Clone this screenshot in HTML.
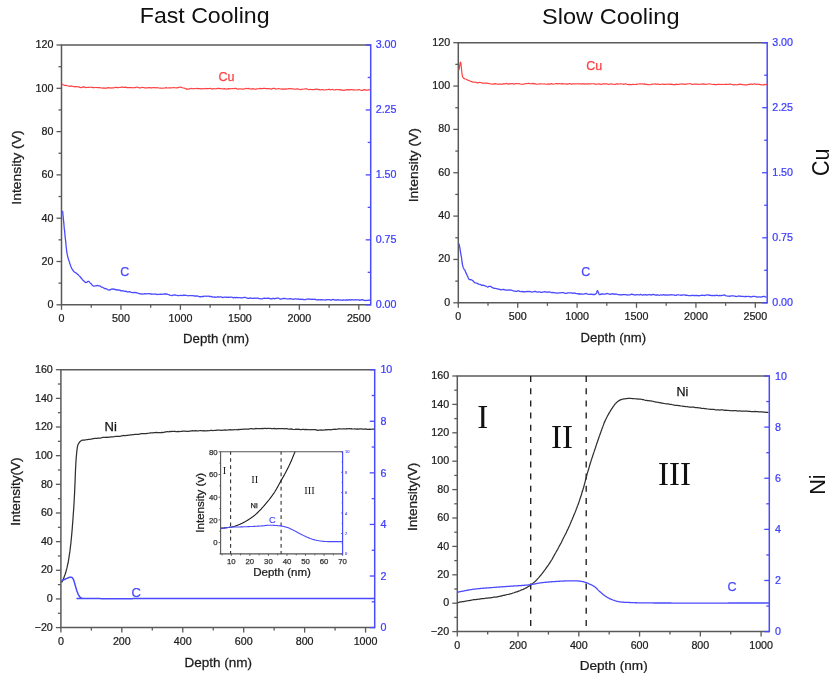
<!DOCTYPE html>
<html><head><meta charset="utf-8"><style>
html,body{margin:0;padding:0;background:#fff;}
svg{display:block;will-change:transform;}
</style></head><body>
<svg width="836" height="682" viewBox="0 0 836 682">
<rect width="836" height="682" fill="#fff"/>
<text transform="translate(204.65 22.80) rotate(0) scale(1.042 1)" font-size="22.2" fill="#111" stroke="#111" stroke-width="0" text-anchor="middle" style="font-family:'Liberation Sans', sans-serif">Fast Cooling</text>
<text transform="translate(610.80 24.30) rotate(0) scale(1.062 1)" font-size="22.2" fill="#111" stroke="#111" stroke-width="0" text-anchor="middle" style="font-family:'Liberation Sans', sans-serif">Slow Cooling</text>
<text transform="translate(829.00 162.20) rotate(-90) scale(0.92 1)" font-size="23.3" fill="#111" stroke="#111" stroke-width="0" text-anchor="middle" style="font-family:'Liberation Sans', sans-serif">Cu</text>
<text transform="translate(824.90 484.60) rotate(-90) scale(0.97 1)" font-size="22.4" fill="#111" stroke="#111" stroke-width="0" text-anchor="middle" style="font-family:'Liberation Sans', sans-serif">Ni</text>
<line x1="60.75" y1="45.00" x2="370.70" y2="45.00" stroke="#5a5a5a" stroke-width="1.5" />
<line x1="61.50" y1="45.00" x2="61.50" y2="304.80" stroke="#5a5a5a" stroke-width="1.5" />
<line x1="60.75" y1="304.80" x2="370.70" y2="304.80" stroke="#5a5a5a" stroke-width="1.5" />
<line x1="56.50" y1="304.80" x2="61.50" y2="304.80" stroke="#5a5a5a" stroke-width="1.3" />
<line x1="56.50" y1="261.50" x2="61.50" y2="261.50" stroke="#5a5a5a" stroke-width="1.3" />
<line x1="56.50" y1="218.20" x2="61.50" y2="218.20" stroke="#5a5a5a" stroke-width="1.3" />
<line x1="56.50" y1="174.90" x2="61.50" y2="174.90" stroke="#5a5a5a" stroke-width="1.3" />
<line x1="56.50" y1="131.60" x2="61.50" y2="131.60" stroke="#5a5a5a" stroke-width="1.3" />
<line x1="56.50" y1="88.30" x2="61.50" y2="88.30" stroke="#5a5a5a" stroke-width="1.3" />
<line x1="56.50" y1="45.00" x2="61.50" y2="45.00" stroke="#5a5a5a" stroke-width="1.3" />
<line x1="58.50" y1="283.15" x2="61.50" y2="283.15" stroke="#5a5a5a" stroke-width="1.3" />
<line x1="58.50" y1="239.85" x2="61.50" y2="239.85" stroke="#5a5a5a" stroke-width="1.3" />
<line x1="58.50" y1="196.55" x2="61.50" y2="196.55" stroke="#5a5a5a" stroke-width="1.3" />
<line x1="58.50" y1="153.25" x2="61.50" y2="153.25" stroke="#5a5a5a" stroke-width="1.3" />
<line x1="58.50" y1="109.95" x2="61.50" y2="109.95" stroke="#5a5a5a" stroke-width="1.3" />
<line x1="58.50" y1="66.65" x2="61.50" y2="66.65" stroke="#5a5a5a" stroke-width="1.3" />
<line x1="61.50" y1="304.80" x2="61.50" y2="309.80" stroke="#5a5a5a" stroke-width="1.3" />
<line x1="120.96" y1="304.80" x2="120.96" y2="309.80" stroke="#5a5a5a" stroke-width="1.3" />
<line x1="180.42" y1="304.80" x2="180.42" y2="309.80" stroke="#5a5a5a" stroke-width="1.3" />
<line x1="239.88" y1="304.80" x2="239.88" y2="309.80" stroke="#5a5a5a" stroke-width="1.3" />
<line x1="299.35" y1="304.80" x2="299.35" y2="309.80" stroke="#5a5a5a" stroke-width="1.3" />
<line x1="358.81" y1="304.80" x2="358.81" y2="309.80" stroke="#5a5a5a" stroke-width="1.3" />
<line x1="91.23" y1="304.80" x2="91.23" y2="307.80" stroke="#5a5a5a" stroke-width="1.3" />
<line x1="150.69" y1="304.80" x2="150.69" y2="307.80" stroke="#5a5a5a" stroke-width="1.3" />
<line x1="210.15" y1="304.80" x2="210.15" y2="307.80" stroke="#5a5a5a" stroke-width="1.3" />
<line x1="269.62" y1="304.80" x2="269.62" y2="307.80" stroke="#5a5a5a" stroke-width="1.3" />
<line x1="329.08" y1="304.80" x2="329.08" y2="307.80" stroke="#5a5a5a" stroke-width="1.3" />
<text transform="translate(53.40 308.10) rotate(0) scale(0.94 1)" font-size="11.4" fill="#1c1c1c" stroke="#1c1c1c" stroke-width="0.25" text-anchor="end" style="font-family:'Liberation Sans', sans-serif">0</text>
<text transform="translate(53.40 264.80) rotate(0) scale(0.94 1)" font-size="11.4" fill="#1c1c1c" stroke="#1c1c1c" stroke-width="0.25" text-anchor="end" style="font-family:'Liberation Sans', sans-serif">20</text>
<text transform="translate(53.40 221.50) rotate(0) scale(0.94 1)" font-size="11.4" fill="#1c1c1c" stroke="#1c1c1c" stroke-width="0.25" text-anchor="end" style="font-family:'Liberation Sans', sans-serif">40</text>
<text transform="translate(53.40 178.20) rotate(0) scale(0.94 1)" font-size="11.4" fill="#1c1c1c" stroke="#1c1c1c" stroke-width="0.25" text-anchor="end" style="font-family:'Liberation Sans', sans-serif">60</text>
<text transform="translate(53.40 134.90) rotate(0) scale(0.94 1)" font-size="11.4" fill="#1c1c1c" stroke="#1c1c1c" stroke-width="0.25" text-anchor="end" style="font-family:'Liberation Sans', sans-serif">80</text>
<text transform="translate(53.40 91.60) rotate(0) scale(0.94 1)" font-size="11.4" fill="#1c1c1c" stroke="#1c1c1c" stroke-width="0.25" text-anchor="end" style="font-family:'Liberation Sans', sans-serif">100</text>
<text transform="translate(53.40 48.30) rotate(0) scale(0.94 1)" font-size="11.4" fill="#1c1c1c" stroke="#1c1c1c" stroke-width="0.25" text-anchor="end" style="font-family:'Liberation Sans', sans-serif">120</text>
<text transform="translate(61.50 322.00) rotate(0) scale(0.94 1)" font-size="11.4" fill="#1c1c1c" stroke="#1c1c1c" stroke-width="0.25" text-anchor="middle" style="font-family:'Liberation Sans', sans-serif">0</text>
<text transform="translate(120.96 322.00) rotate(0) scale(0.94 1)" font-size="11.4" fill="#1c1c1c" stroke="#1c1c1c" stroke-width="0.25" text-anchor="middle" style="font-family:'Liberation Sans', sans-serif">500</text>
<text transform="translate(180.42 322.00) rotate(0) scale(0.94 1)" font-size="11.4" fill="#1c1c1c" stroke="#1c1c1c" stroke-width="0.25" text-anchor="middle" style="font-family:'Liberation Sans', sans-serif">1000</text>
<text transform="translate(239.88 322.00) rotate(0) scale(0.94 1)" font-size="11.4" fill="#1c1c1c" stroke="#1c1c1c" stroke-width="0.25" text-anchor="middle" style="font-family:'Liberation Sans', sans-serif">1500</text>
<text transform="translate(299.35 322.00) rotate(0) scale(0.94 1)" font-size="11.4" fill="#1c1c1c" stroke="#1c1c1c" stroke-width="0.25" text-anchor="middle" style="font-family:'Liberation Sans', sans-serif">2000</text>
<text transform="translate(358.81 322.00) rotate(0) scale(0.94 1)" font-size="11.4" fill="#1c1c1c" stroke="#1c1c1c" stroke-width="0.25" text-anchor="middle" style="font-family:'Liberation Sans', sans-serif">2500</text>
<line x1="370.70" y1="44.25" x2="370.70" y2="305.55" stroke="#4a4aff" stroke-width="1.5" />
<line x1="365.70" y1="304.80" x2="370.70" y2="304.80" stroke="#4a4aff" stroke-width="1.3" />
<line x1="365.70" y1="239.85" x2="370.70" y2="239.85" stroke="#4a4aff" stroke-width="1.3" />
<line x1="365.70" y1="174.90" x2="370.70" y2="174.90" stroke="#4a4aff" stroke-width="1.3" />
<line x1="365.70" y1="109.95" x2="370.70" y2="109.95" stroke="#4a4aff" stroke-width="1.3" />
<line x1="365.70" y1="45.00" x2="370.70" y2="45.00" stroke="#4a4aff" stroke-width="1.3" />
<line x1="367.70" y1="272.32" x2="370.70" y2="272.32" stroke="#4a4aff" stroke-width="1.3" />
<line x1="367.70" y1="207.38" x2="370.70" y2="207.38" stroke="#4a4aff" stroke-width="1.3" />
<line x1="367.70" y1="142.43" x2="370.70" y2="142.43" stroke="#4a4aff" stroke-width="1.3" />
<line x1="367.70" y1="77.47" x2="370.70" y2="77.47" stroke="#4a4aff" stroke-width="1.3" />
<text transform="translate(375.70 307.85) rotate(0) scale(0.94 1)" font-size="11.4" fill="#3c3cff" stroke="#3c3cff" stroke-width="0.25" text-anchor="start" style="font-family:'Liberation Sans', sans-serif">0.00</text>
<text transform="translate(375.70 242.90) rotate(0) scale(0.94 1)" font-size="11.4" fill="#3c3cff" stroke="#3c3cff" stroke-width="0.25" text-anchor="start" style="font-family:'Liberation Sans', sans-serif">0.75</text>
<text transform="translate(375.70 177.95) rotate(0) scale(0.94 1)" font-size="11.4" fill="#3c3cff" stroke="#3c3cff" stroke-width="0.25" text-anchor="start" style="font-family:'Liberation Sans', sans-serif">1.50</text>
<text transform="translate(375.70 113.00) rotate(0) scale(0.94 1)" font-size="11.4" fill="#3c3cff" stroke="#3c3cff" stroke-width="0.25" text-anchor="start" style="font-family:'Liberation Sans', sans-serif">2.25</text>
<text transform="translate(375.70 48.05) rotate(0) scale(0.94 1)" font-size="11.4" fill="#3c3cff" stroke="#3c3cff" stroke-width="0.25" text-anchor="start" style="font-family:'Liberation Sans', sans-serif">3.00</text>
<text transform="translate(20.90 167.50) rotate(-90) scale(1.072 1)" font-size="13" fill="#1c1c1c" stroke="#1c1c1c" stroke-width="0.25" text-anchor="middle" style="font-family:'Liberation Sans', sans-serif">Intensity (V)</text>
<text transform="translate(216.10 343.40) rotate(0) scale(1.06 1)" font-size="12.5" fill="#1c1c1c" stroke="#1c1c1c" stroke-width="0.25" text-anchor="middle" style="font-family:'Liberation Sans', sans-serif">Depth (nm)</text>
<polyline points="62.30,84.04 63.10,84.72 64.30,85.30 66.00,85.46 66.78,85.62 67.65,85.74 68.59,86.01 69.60,86.32 70.66,86.06 71.77,85.94 72.92,86.49 74.10,86.56 75.05,86.85 75.99,86.52 76.95,86.69 77.93,87.01 78.94,86.87 80.01,87.33 81.13,87.59 82.33,87.15 83.62,86.94 85.00,87.21 85.87,87.65 86.79,87.52 87.76,87.35 88.76,87.43 89.80,87.22 90.87,87.26 91.96,87.45 93.06,87.62 94.18,87.54 95.30,87.52 96.42,87.51 97.53,87.69 98.63,87.67 99.71,87.49 100.77,87.96 101.80,88.02 102.80,88.11 103.90,87.83 104.99,88.22 106.07,88.32 107.13,87.83 108.19,87.68 109.23,87.84 110.26,87.89 111.29,88.05 112.30,87.74 113.30,87.83 114.30,87.75 115.29,87.42 116.27,87.43 117.24,87.63 118.20,87.71 119.28,87.52 120.31,87.48 121.31,87.09 122.28,87.03 123.24,87.40 124.19,87.35 125.15,87.18 126.12,87.36 127.12,87.58 128.16,87.70 129.24,87.57 130.39,87.54 131.60,87.58 132.47,87.79 133.37,87.73 134.30,87.60 135.25,87.60 136.22,87.28 137.21,87.11 138.22,87.47 139.24,87.87 140.27,87.81 141.32,87.64 142.37,87.39 143.42,87.48 144.47,87.86 145.53,87.93 146.58,87.80 147.62,87.96 148.66,87.61 149.69,87.61 150.70,87.93 151.71,87.84 152.74,87.72 153.79,87.53 154.84,87.63 155.89,87.98 156.96,87.52 158.02,87.82 159.08,88.02 160.14,88.18 161.19,88.18 162.22,88.24 163.25,88.07 164.26,88.02 165.25,87.90 166.21,87.59 167.15,87.99 168.07,88.00 168.95,87.75 169.80,87.82 171.10,87.84 172.37,87.74 173.60,87.66 174.78,87.73 175.92,87.80 177.01,87.82 178.05,87.70 179.03,87.32 179.95,87.24 180.80,87.16 181.59,87.41 182.30,87.76 184.21,88.12 185.14,88.56 186.00,88.93 186.20,88.75 186.32,89.10 189.00,89.17 189.59,88.76 190.22,88.49 190.92,88.34 191.66,88.78 192.44,88.66 193.27,88.50 194.14,88.77 195.05,88.72 195.99,88.50 196.97,88.44 197.98,88.66 199.01,88.53 200.08,88.52 201.16,88.83 202.26,88.81 203.39,88.70 204.52,88.75 205.67,88.46 206.83,88.55 208.00,88.62 209.17,88.49 210.34,88.36 211.51,88.84 212.68,88.83 213.84,88.61 215.00,88.77 215.91,89.00 216.83,88.57 217.76,88.33 218.70,88.29 219.65,88.66 220.60,88.47 221.57,88.75 222.54,88.88 223.52,88.86 224.51,88.62 225.51,89.01 226.51,89.10 227.52,88.95 228.54,88.67 229.56,88.80 230.59,88.70 231.62,88.77 232.67,88.62 233.71,88.76 234.76,88.43 235.82,88.42 236.88,88.88 237.95,89.07 239.02,88.77 240.09,88.99 241.17,88.73 242.25,89.03 243.34,89.05 244.42,88.83 245.51,88.60 246.61,88.30 247.70,88.75 248.80,88.40 249.76,88.76 250.75,89.06 251.75,88.95 252.76,88.60 253.79,88.91 254.84,89.14 255.90,89.09 256.96,88.92 258.04,88.74 259.13,88.61 260.22,88.45 261.32,88.69 262.42,88.65 263.53,88.46 264.63,88.29 265.74,88.60 266.85,88.51 267.95,88.60 269.05,88.53 270.15,88.87 271.23,89.08 272.32,88.58 273.39,88.44 274.45,88.45 275.50,88.92 276.54,89.03 277.56,88.79 278.57,88.57 279.56,88.77 280.53,89.00 281.49,89.20 282.42,88.89 283.33,89.11 284.22,89.09 285.08,88.94 285.91,89.22 286.72,88.84 287.50,88.99 288.95,88.63 290.26,88.50 291.44,88.96 292.51,88.73 293.49,89.00 294.39,89.05 295.23,89.25 296.03,89.05 296.81,88.93 297.58,88.84 298.35,89.21 299.15,89.24 300.00,89.52 300.90,89.64 301.88,89.19 302.95,89.25 304.14,88.98 305.45,88.81 306.90,88.75 307.68,89.27 308.50,89.51 309.36,89.68 310.24,89.44 311.15,89.51 312.09,89.67 313.06,89.49 314.05,89.53 315.06,89.32 316.09,89.12 317.15,89.15 318.21,89.61 319.30,89.64 320.39,89.93 321.50,89.76 322.61,89.56 323.73,89.81 324.86,89.99 325.99,89.53 327.13,89.74 328.26,89.47 329.39,89.34 330.52,89.82 331.64,89.50 332.75,89.47 333.86,89.99 334.95,89.88 336.03,89.62 337.10,89.52 338.14,89.52 339.17,89.88 340.18,89.64 341.17,90.07 342.13,89.95 343.07,90.29 343.97,90.45 344.85,90.10 345.70,89.89 347.01,89.93 348.31,89.69 349.60,89.95 350.87,89.66 352.13,89.47 353.36,90.05 354.58,89.88 355.77,89.99 356.94,89.95 358.08,89.82 359.19,89.57 360.28,90.02 361.32,90.30 362.33,90.45 363.30,89.92 364.24,89.70 365.13,89.85 365.97,90.18 366.77,90.05 367.52,90.08 368.22,90.07 368.87,89.78 369.46,89.82 370.00,89.67" fill="none" stroke="#ff4040" stroke-width="1.2" stroke-linejoin="round" />
<polyline points="62.60,210.86 62.66,211.66 62.73,211.78 62.81,212.32 62.89,213.70 62.99,214.89 63.10,216.03 63.21,216.92 63.32,218.21 63.44,219.49 63.55,220.73 63.67,221.62 63.79,222.87 63.90,224.02 63.99,225.23 64.09,226.56 64.18,227.72 64.28,228.50 64.38,229.32 64.48,230.10 64.58,230.82 64.68,231.69 64.78,232.98 64.89,234.05 64.99,235.14 65.09,236.60 65.20,237.55 65.30,238.53 65.40,239.22 65.50,239.84 65.63,241.10 65.76,242.17 65.88,243.57 66.00,245.23 66.13,246.38 66.25,247.10 66.38,248.53 66.51,249.69 66.64,250.73 66.79,251.86 66.94,252.78 67.10,253.71 67.33,254.54 67.56,255.95 67.81,257.14 68.07,257.58 68.33,258.70 68.61,259.68 68.90,260.42 69.19,261.29 69.50,262.15 69.84,263.49 70.17,264.33 70.50,265.49 70.84,266.17 71.22,267.37 71.65,268.45 72.14,269.08 72.70,269.89 73.36,270.97 74.10,271.74 74.90,272.30 75.75,272.72 76.62,273.35 77.50,274.33 78.37,274.79 79.20,276.00 79.93,276.47 80.69,277.64 81.46,278.21 82.22,279.43 82.97,280.26 83.70,280.86 84.39,281.47 85.03,282.09 85.60,282.48 86.90,282.34 87.86,281.42 88.90,281.36 89.63,282.32 90.37,283.18 91.15,283.73 91.99,285.00 92.90,285.76 93.93,286.24 95.06,285.81 96.23,285.93 97.40,285.44 98.50,285.79 99.51,285.92 100.45,286.19 101.39,287.10 102.35,287.20 103.40,287.78 104.38,288.50 105.44,288.62 106.54,288.85 107.61,289.66 108.62,289.83 109.50,290.19 110.61,289.61 111.43,289.18 113.00,288.89 113.74,289.30 114.59,289.13 115.52,289.84 116.52,289.58 117.58,290.12 118.69,289.95 119.83,290.16 120.98,290.82 122.15,290.75 123.30,290.81 124.25,291.29 125.21,291.39 126.16,291.24 127.13,291.98 128.12,291.79 129.12,291.67 130.16,291.91 131.22,292.33 132.32,292.72 133.47,292.50 134.66,292.61 135.90,292.48 136.81,292.76 137.76,293.20 138.74,293.46 139.75,293.77 140.77,293.86 141.82,294.02 142.89,294.02 143.97,293.86 145.06,293.61 146.16,293.85 147.26,293.73 148.37,293.53 149.47,293.72 150.57,294.19 151.66,293.88 152.74,294.10 153.80,294.09 154.80,294.20 155.80,293.99 156.80,294.54 157.80,294.30 158.80,294.46 159.80,294.41 160.80,294.08 161.80,294.34 162.80,294.17 163.80,294.02 164.80,293.94 165.80,294.01 166.80,294.01 167.80,294.46 168.80,294.63 169.80,295.12 170.80,295.37 171.80,295.58 172.86,295.12 173.91,295.06 174.96,294.90 176.02,295.12 177.07,295.30 178.12,295.57 179.17,295.68 180.22,295.41 181.28,295.43 182.33,295.55 183.38,295.23 184.43,295.11 185.48,295.37 186.54,295.31 187.59,295.78 188.64,295.68 189.70,295.53 190.70,295.53 191.70,295.58 192.70,295.61 193.70,295.89 194.70,296.00 195.70,295.95 196.70,296.20 197.70,296.00 198.70,296.45 199.70,296.76 200.70,296.75 201.70,296.52 202.70,296.46 203.70,296.50 204.70,296.11 205.70,296.21 206.70,296.36 207.70,296.19 208.74,296.05 209.77,296.56 210.78,296.51 211.78,296.64 212.77,297.05 213.76,297.06 214.75,296.83 215.75,297.29 216.75,297.08 217.77,296.70 218.81,297.06 219.86,296.81 220.94,296.86 222.05,297.34 223.20,297.49 224.38,297.07 225.60,297.20 226.50,297.25 227.43,297.35 228.38,297.20 229.36,297.43 230.37,297.16 231.39,297.19 232.43,297.29 233.49,297.80 234.56,297.41 235.63,297.75 236.71,297.50 237.79,297.67 238.88,297.64 239.96,297.69 241.03,297.95 242.10,297.83 243.16,297.55 244.20,297.40 245.22,297.30 246.23,297.87 247.21,298.02 248.17,298.37 249.10,298.36 250.00,297.83 251.11,298.06 252.11,298.29 253.01,298.38 253.83,298.26 254.60,298.09 255.33,298.08 256.03,298.36 256.74,298.09 257.46,298.16 258.22,298.17 259.04,298.56 259.94,298.67 260.93,298.84 262.04,298.87 263.28,298.46 264.67,298.20 266.24,298.29 268.00,298.16 268.70,298.23 269.43,298.47 270.20,298.80 271.00,298.73 271.82,298.88 272.68,298.39 273.56,298.34 274.46,298.84 275.39,298.44 276.34,298.44 277.32,298.18 278.31,298.06 279.32,298.65 280.35,299.05 281.40,299.02 282.46,298.59 283.53,298.50 284.62,298.41 285.71,298.72 286.82,298.91 287.93,298.83 289.05,298.87 290.18,298.57 291.31,298.76 292.44,299.20 293.58,299.30 294.71,298.84 295.84,298.93 296.97,299.15 298.10,298.91 299.22,299.30 300.34,299.18 301.44,299.32 302.54,299.16 303.63,299.56 304.70,299.62 305.76,299.49 306.81,299.09 307.84,299.12 308.86,298.81 309.85,299.10 310.83,299.50 311.79,299.16 312.72,299.25 313.63,299.29 314.51,299.25 315.37,299.48 316.20,299.80 317.00,299.79 318.35,299.62 319.65,299.92 320.91,299.59 322.13,299.75 323.30,299.78 324.44,299.88 325.55,300.02 326.62,299.60 327.66,299.69 328.67,299.57 329.66,299.72 330.63,300.06 331.57,299.98 332.50,299.44 333.41,299.51 334.31,299.75 335.20,300.02 336.08,299.99 336.96,300.11 337.83,299.54 338.70,299.98 339.58,300.05 340.46,300.00 341.34,300.21 342.24,300.32 343.14,299.76 344.06,300.03 345.00,300.15 346.07,299.77 347.18,300.01 348.30,300.02 349.44,299.72 350.59,300.06 351.76,299.72 352.92,299.92 354.09,299.91 355.26,299.76 356.42,299.94 357.56,299.97 358.69,299.79 359.80,300.31 360.89,299.89 361.94,299.61 362.97,299.86 363.95,300.28 364.90,300.38 365.80,300.52 366.65,300.39 367.44,300.47 368.18,300.25 368.86,300.09 369.46,300.19 370.00,299.87" fill="none" stroke="#4a4aff" stroke-width="1.3" stroke-linejoin="round" />
<text x="218.50" y="81.30" font-size="12.5" fill="#ff4040" stroke="#ff4040" stroke-width="0.25" text-anchor="start" style="font-family:'Liberation Sans', sans-serif" >Cu</text>
<text x="120.30" y="275.80" font-size="12.5" fill="#4a4aff" stroke="#4a4aff" stroke-width="0.25" text-anchor="start" style="font-family:'Liberation Sans', sans-serif" >C</text>
<line x1="457.55" y1="42.70" x2="767.20" y2="42.70" stroke="#5a5a5a" stroke-width="1.5" />
<line x1="458.30" y1="42.70" x2="458.30" y2="302.80" stroke="#5a5a5a" stroke-width="1.5" />
<line x1="457.55" y1="302.80" x2="767.20" y2="302.80" stroke="#5a5a5a" stroke-width="1.5" />
<line x1="453.30" y1="302.80" x2="458.30" y2="302.80" stroke="#5a5a5a" stroke-width="1.3" />
<line x1="453.30" y1="259.45" x2="458.30" y2="259.45" stroke="#5a5a5a" stroke-width="1.3" />
<line x1="453.30" y1="216.10" x2="458.30" y2="216.10" stroke="#5a5a5a" stroke-width="1.3" />
<line x1="453.30" y1="172.75" x2="458.30" y2="172.75" stroke="#5a5a5a" stroke-width="1.3" />
<line x1="453.30" y1="129.40" x2="458.30" y2="129.40" stroke="#5a5a5a" stroke-width="1.3" />
<line x1="453.30" y1="86.05" x2="458.30" y2="86.05" stroke="#5a5a5a" stroke-width="1.3" />
<line x1="453.30" y1="42.70" x2="458.30" y2="42.70" stroke="#5a5a5a" stroke-width="1.3" />
<line x1="455.30" y1="281.12" x2="458.30" y2="281.12" stroke="#5a5a5a" stroke-width="1.3" />
<line x1="455.30" y1="237.78" x2="458.30" y2="237.78" stroke="#5a5a5a" stroke-width="1.3" />
<line x1="455.30" y1="194.43" x2="458.30" y2="194.43" stroke="#5a5a5a" stroke-width="1.3" />
<line x1="455.30" y1="151.07" x2="458.30" y2="151.07" stroke="#5a5a5a" stroke-width="1.3" />
<line x1="455.30" y1="107.72" x2="458.30" y2="107.72" stroke="#5a5a5a" stroke-width="1.3" />
<line x1="455.30" y1="64.38" x2="458.30" y2="64.38" stroke="#5a5a5a" stroke-width="1.3" />
<line x1="458.30" y1="302.80" x2="458.30" y2="307.80" stroke="#5a5a5a" stroke-width="1.3" />
<line x1="517.70" y1="302.80" x2="517.70" y2="307.80" stroke="#5a5a5a" stroke-width="1.3" />
<line x1="577.11" y1="302.80" x2="577.11" y2="307.80" stroke="#5a5a5a" stroke-width="1.3" />
<line x1="636.51" y1="302.80" x2="636.51" y2="307.80" stroke="#5a5a5a" stroke-width="1.3" />
<line x1="695.92" y1="302.80" x2="695.92" y2="307.80" stroke="#5a5a5a" stroke-width="1.3" />
<line x1="755.32" y1="302.80" x2="755.32" y2="307.80" stroke="#5a5a5a" stroke-width="1.3" />
<line x1="488.00" y1="302.80" x2="488.00" y2="305.80" stroke="#5a5a5a" stroke-width="1.3" />
<line x1="547.41" y1="302.80" x2="547.41" y2="305.80" stroke="#5a5a5a" stroke-width="1.3" />
<line x1="606.81" y1="302.80" x2="606.81" y2="305.80" stroke="#5a5a5a" stroke-width="1.3" />
<line x1="666.21" y1="302.80" x2="666.21" y2="305.80" stroke="#5a5a5a" stroke-width="1.3" />
<line x1="725.62" y1="302.80" x2="725.62" y2="305.80" stroke="#5a5a5a" stroke-width="1.3" />
<text transform="translate(450.20 305.60) rotate(0) scale(0.94 1)" font-size="11.4" fill="#1c1c1c" stroke="#1c1c1c" stroke-width="0.25" text-anchor="end" style="font-family:'Liberation Sans', sans-serif">0</text>
<text transform="translate(450.20 262.25) rotate(0) scale(0.94 1)" font-size="11.4" fill="#1c1c1c" stroke="#1c1c1c" stroke-width="0.25" text-anchor="end" style="font-family:'Liberation Sans', sans-serif">20</text>
<text transform="translate(450.20 218.90) rotate(0) scale(0.94 1)" font-size="11.4" fill="#1c1c1c" stroke="#1c1c1c" stroke-width="0.25" text-anchor="end" style="font-family:'Liberation Sans', sans-serif">40</text>
<text transform="translate(450.20 175.55) rotate(0) scale(0.94 1)" font-size="11.4" fill="#1c1c1c" stroke="#1c1c1c" stroke-width="0.25" text-anchor="end" style="font-family:'Liberation Sans', sans-serif">60</text>
<text transform="translate(450.20 132.20) rotate(0) scale(0.94 1)" font-size="11.4" fill="#1c1c1c" stroke="#1c1c1c" stroke-width="0.25" text-anchor="end" style="font-family:'Liberation Sans', sans-serif">80</text>
<text transform="translate(450.20 88.85) rotate(0) scale(0.94 1)" font-size="11.4" fill="#1c1c1c" stroke="#1c1c1c" stroke-width="0.25" text-anchor="end" style="font-family:'Liberation Sans', sans-serif">100</text>
<text transform="translate(450.20 45.50) rotate(0) scale(0.94 1)" font-size="11.4" fill="#1c1c1c" stroke="#1c1c1c" stroke-width="0.25" text-anchor="end" style="font-family:'Liberation Sans', sans-serif">120</text>
<text transform="translate(458.30 320.00) rotate(0) scale(0.94 1)" font-size="11.4" fill="#1c1c1c" stroke="#1c1c1c" stroke-width="0.25" text-anchor="middle" style="font-family:'Liberation Sans', sans-serif">0</text>
<text transform="translate(517.70 320.00) rotate(0) scale(0.94 1)" font-size="11.4" fill="#1c1c1c" stroke="#1c1c1c" stroke-width="0.25" text-anchor="middle" style="font-family:'Liberation Sans', sans-serif">500</text>
<text transform="translate(577.11 320.00) rotate(0) scale(0.94 1)" font-size="11.4" fill="#1c1c1c" stroke="#1c1c1c" stroke-width="0.25" text-anchor="middle" style="font-family:'Liberation Sans', sans-serif">1000</text>
<text transform="translate(636.51 320.00) rotate(0) scale(0.94 1)" font-size="11.4" fill="#1c1c1c" stroke="#1c1c1c" stroke-width="0.25" text-anchor="middle" style="font-family:'Liberation Sans', sans-serif">1500</text>
<text transform="translate(695.92 320.00) rotate(0) scale(0.94 1)" font-size="11.4" fill="#1c1c1c" stroke="#1c1c1c" stroke-width="0.25" text-anchor="middle" style="font-family:'Liberation Sans', sans-serif">2000</text>
<text transform="translate(755.32 320.00) rotate(0) scale(0.94 1)" font-size="11.4" fill="#1c1c1c" stroke="#1c1c1c" stroke-width="0.25" text-anchor="middle" style="font-family:'Liberation Sans', sans-serif">2500</text>
<line x1="767.20" y1="41.95" x2="767.20" y2="303.55" stroke="#4a4aff" stroke-width="1.5" />
<line x1="762.20" y1="302.80" x2="767.20" y2="302.80" stroke="#4a4aff" stroke-width="1.3" />
<line x1="762.20" y1="237.78" x2="767.20" y2="237.78" stroke="#4a4aff" stroke-width="1.3" />
<line x1="762.20" y1="172.75" x2="767.20" y2="172.75" stroke="#4a4aff" stroke-width="1.3" />
<line x1="762.20" y1="107.72" x2="767.20" y2="107.72" stroke="#4a4aff" stroke-width="1.3" />
<line x1="762.20" y1="42.70" x2="767.20" y2="42.70" stroke="#4a4aff" stroke-width="1.3" />
<line x1="764.20" y1="270.29" x2="767.20" y2="270.29" stroke="#4a4aff" stroke-width="1.3" />
<line x1="764.20" y1="205.26" x2="767.20" y2="205.26" stroke="#4a4aff" stroke-width="1.3" />
<line x1="764.20" y1="140.24" x2="767.20" y2="140.24" stroke="#4a4aff" stroke-width="1.3" />
<line x1="764.20" y1="75.21" x2="767.20" y2="75.21" stroke="#4a4aff" stroke-width="1.3" />
<text transform="translate(772.20 305.85) rotate(0) scale(0.94 1)" font-size="11.4" fill="#3c3cff" stroke="#3c3cff" stroke-width="0.25" text-anchor="start" style="font-family:'Liberation Sans', sans-serif">0.00</text>
<text transform="translate(772.20 240.83) rotate(0) scale(0.94 1)" font-size="11.4" fill="#3c3cff" stroke="#3c3cff" stroke-width="0.25" text-anchor="start" style="font-family:'Liberation Sans', sans-serif">0.75</text>
<text transform="translate(772.20 175.80) rotate(0) scale(0.94 1)" font-size="11.4" fill="#3c3cff" stroke="#3c3cff" stroke-width="0.25" text-anchor="start" style="font-family:'Liberation Sans', sans-serif">1.50</text>
<text transform="translate(772.20 110.77) rotate(0) scale(0.94 1)" font-size="11.4" fill="#3c3cff" stroke="#3c3cff" stroke-width="0.25" text-anchor="start" style="font-family:'Liberation Sans', sans-serif">2.25</text>
<text transform="translate(772.20 45.75) rotate(0) scale(0.94 1)" font-size="11.4" fill="#3c3cff" stroke="#3c3cff" stroke-width="0.25" text-anchor="start" style="font-family:'Liberation Sans', sans-serif">3.00</text>
<text transform="translate(418.10 165.20) rotate(-90) scale(1.072 1)" font-size="13" fill="#1c1c1c" stroke="#1c1c1c" stroke-width="0.25" text-anchor="middle" style="font-family:'Liberation Sans', sans-serif">Intensity (V)</text>
<text transform="translate(613.30 341.60) rotate(0) scale(1.05 1)" font-size="12.5" fill="#1c1c1c" stroke="#1c1c1c" stroke-width="0.25" text-anchor="middle" style="font-family:'Liberation Sans', sans-serif">Depth (nm)</text>
<polyline points="459.00,70.02 459.14,69.25 459.34,67.83 459.57,66.35 459.82,64.84 460.09,63.16 460.35,62.10 460.60,62.47 460.73,62.67 460.86,63.17 460.99,64.48 461.12,65.39 461.25,66.74 461.38,67.84 461.51,69.17 461.64,70.15 461.77,71.59 461.91,73.04 462.04,74.02 462.17,75.04 462.30,75.76 462.84,77.08 463.37,77.95 464.00,78.41 465.14,78.97 466.50,79.23 467.57,80.10 468.75,80.51 470.00,81.06 470.85,81.50 471.67,81.69 472.67,82.04 474.10,81.99 474.87,82.25 475.68,82.21 476.54,82.61 477.47,82.86 478.48,82.53 479.59,82.44 480.82,82.51 482.19,83.12 483.70,83.13 484.43,83.25 485.12,83.11 485.78,83.20 486.43,83.18 487.08,83.16 487.73,83.33 488.41,83.43 489.12,83.73 489.87,83.75 490.69,83.95 491.58,84.02 492.56,84.16 493.63,84.03 494.81,83.61 496.11,83.87 497.55,84.10 499.14,84.20 500.88,84.03 502.80,84.04 503.48,83.69 504.19,83.94 504.91,83.89 505.66,83.67 506.43,83.40 507.23,83.80 508.04,84.12 508.87,83.67 509.72,83.92 510.59,83.79 511.48,83.54 512.38,83.50 513.30,83.81 514.24,84.06 515.19,83.62 516.15,83.78 517.13,83.47 518.12,83.77 519.13,83.66 520.14,83.99 521.17,84.25 522.21,84.05 523.25,84.29 524.31,83.95 525.37,83.59 526.45,83.77 527.53,83.46 528.61,83.42 529.70,83.54 530.80,83.75 531.90,83.55 533.01,83.36 534.12,83.83 535.23,83.71 536.34,84.09 537.45,84.26 538.57,83.99 539.69,83.90 540.80,83.89 541.91,83.98 543.02,83.99 544.13,83.97 545.24,84.01 546.34,84.25 547.44,84.08 548.53,83.94 549.61,84.06 550.69,83.80 551.76,83.69 552.83,84.11 553.88,84.02 554.93,84.00 555.97,83.61 556.99,83.68 558.01,83.83 559.01,83.53 560.00,83.78 561.01,83.93 562.02,83.61 563.01,83.84 564.00,83.85 564.97,84.01 565.94,83.87 566.89,84.04 567.85,84.16 568.79,83.72 569.73,83.51 570.66,83.83 571.59,84.21 572.51,83.92 573.43,83.90 574.35,83.99 575.26,83.85 576.17,83.81 577.08,83.75 577.99,83.76 578.90,83.92 579.81,83.81 580.72,83.80 581.63,84.08 582.54,83.71 583.46,83.89 584.38,84.10 585.30,83.92 586.23,83.77 587.16,84.09 588.10,83.87 589.04,83.72 589.99,83.81 590.95,84.04 591.91,83.76 592.88,83.76 593.87,83.77 594.86,84.12 595.86,84.04 596.87,84.29 597.90,83.95 598.93,83.88 599.98,84.07 601.04,84.33 602.12,84.18 603.20,83.94 604.31,83.73 605.43,83.91 606.56,83.77 607.71,84.12 608.88,84.34 610.07,84.01 611.27,83.89 612.49,84.20 613.74,84.25 615.00,84.40 615.83,84.16 616.67,83.88 617.52,83.84 618.38,84.17 619.25,83.98 620.13,83.94 621.02,83.96 621.91,83.98 622.82,83.98 623.74,84.34 624.66,84.00 625.59,83.71 626.53,84.21 627.48,84.44 628.44,84.65 629.40,84.37 630.37,84.58 631.34,84.69 632.33,84.25 633.32,84.38 634.31,84.51 635.31,84.46 636.32,84.34 637.33,84.11 638.35,84.02 639.37,83.90 640.40,83.72 641.43,83.98 642.47,83.92 643.51,84.25 644.55,83.90 645.60,84.31 646.65,84.39 647.70,84.59 648.76,84.69 649.82,84.74 650.88,84.55 651.94,84.05 653.01,84.28 654.08,84.02 655.15,83.96 656.21,84.18 657.29,84.21 658.36,84.15 659.43,84.48 660.50,84.44 661.57,84.23 662.64,84.05 663.72,84.38 664.79,84.29 665.86,84.46 666.92,84.25 667.99,84.03 669.06,84.14 670.12,84.40 671.18,84.10 672.24,84.36 673.30,84.60 674.35,84.65 675.40,84.70 676.45,84.15 677.49,84.28 678.53,84.52 679.57,84.09 680.60,84.00 681.63,83.96 682.65,84.11 683.67,84.13 684.68,84.17 685.69,84.41 686.69,84.00 687.69,83.81 688.68,83.76 689.66,83.73 690.64,83.67 691.61,84.28 692.57,84.53 693.53,84.13 694.48,84.20 695.42,84.11 696.35,84.06 697.28,84.06 698.19,84.27 699.10,84.35 700.00,84.23 701.14,84.05 702.28,84.05 703.43,83.90 704.59,84.13 705.75,84.37 706.91,84.26 708.08,84.00 709.25,83.92 710.43,84.02 711.61,84.23 712.79,84.48 713.97,84.33 715.15,84.55 716.33,84.55 717.52,84.41 718.70,84.30 719.88,84.32 721.06,84.48 722.24,84.37 723.42,84.51 724.59,84.42 725.76,84.22 726.93,84.32 728.09,84.48 729.24,84.14 730.39,84.20 731.54,84.24 732.68,84.57 733.81,84.80 734.94,84.54 736.06,84.76 737.16,84.81 738.27,84.46 739.36,84.42 740.44,84.16 741.51,84.50 742.57,84.58 743.62,84.78 744.66,84.83 745.68,84.77 746.70,84.79 747.70,84.68 748.68,84.30 749.66,84.43 750.61,84.09 751.56,84.01 752.48,84.40 753.39,84.11 754.29,83.98 755.17,83.92 756.03,84.43 756.87,84.23 757.69,84.00 758.50,84.46 759.28,84.20 760.05,84.57 760.79,84.65 761.51,84.81 762.21,84.98 762.89,84.82 763.55,84.88 764.19,84.38 764.80,84.62 765.39,84.57 765.95,84.69 766.49,84.33 767.00,84.58" fill="none" stroke="#ff4040" stroke-width="1.2" stroke-linejoin="round" />
<polyline points="459.00,243.79 459.14,244.27 459.33,245.32 459.56,246.32 459.80,247.44 460.06,248.95 460.30,250.81 460.46,251.93 460.63,253.01 460.80,253.68 460.98,254.80 461.16,255.71 461.33,256.61 461.50,257.50 461.65,258.49 461.80,259.96 461.98,261.43 462.13,262.68 462.26,263.78 462.40,264.31 462.58,265.08 462.80,266.12 463.24,267.42 463.75,268.55 464.31,269.60 464.90,270.16 465.31,271.20 465.75,272.37 466.21,273.41 466.66,274.21 467.10,275.30 467.50,275.90 468.19,277.78 468.81,279.03 469.50,279.64 470.77,279.68 472.10,280.21 472.92,280.73 473.73,281.72 474.60,282.52 475.59,282.83 476.64,283.11 477.70,283.63 478.70,284.03 479.69,284.27 480.80,284.70 481.78,285.39 482.85,285.26 483.92,285.30 484.90,285.91 486.05,286.23 487.09,286.79 488.00,287.01 489.00,286.36 490.00,286.40 490.89,286.51 491.89,287.29 493.10,287.80 494.19,288.34 495.41,288.41 496.70,288.57 498.00,289.07 498.93,289.08 499.78,289.35 500.70,289.86 501.86,289.58 503.40,289.47 504.18,289.52 505.01,290.01 505.90,290.19 506.84,290.02 507.83,290.03 508.87,289.95 509.95,290.16 511.07,289.98 512.23,290.44 513.42,290.88 514.65,291.22 515.90,291.26 516.81,291.49 517.76,290.89 518.73,290.81 519.74,291.34 520.77,291.52 521.81,291.36 522.88,291.73 523.96,291.71 525.05,291.89 526.15,291.61 527.26,291.40 528.36,291.52 529.47,291.37 530.57,291.52 531.66,292.09 532.74,291.92 533.80,291.59 534.80,291.46 535.80,291.51 536.80,292.04 537.80,292.01 538.80,291.95 539.80,291.78 540.80,292.40 541.80,292.31 542.80,292.10 543.80,291.88 544.80,291.77 545.80,291.81 546.80,292.25 547.80,292.09 548.80,291.92 549.80,292.21 550.80,292.18 551.80,292.79 552.86,292.44 553.91,292.59 554.96,292.89 556.02,292.78 557.07,293.21 558.12,293.05 559.17,292.80 560.22,292.81 561.28,292.54 562.33,292.72 563.38,292.70 564.43,293.21 565.48,293.47 566.54,293.36 567.59,292.95 568.64,292.91 569.70,292.90 570.71,292.88 571.75,292.90 572.81,293.44 573.89,293.17 574.98,292.96 576.07,293.56 577.16,293.62 578.25,294.00 579.33,293.75 580.39,294.03 581.44,293.99 582.45,294.10 583.44,294.13 584.38,293.95 585.29,293.54 586.15,293.42 586.95,293.89 587.70,294.18 589.40,294.42 590.84,294.14 592.06,294.28 593.10,294.50 593.99,294.47 594.78,294.51 595.50,294.16 596.41,293.35 596.86,292.17 597.14,290.75 597.50,290.63 597.90,291.35 598.24,291.90 598.71,293.53 599.50,294.56 600.07,294.62 600.55,294.06 601.15,294.33 602.06,293.77 603.48,294.10 605.60,294.09 606.26,293.63 606.97,293.47 607.73,293.77 608.53,293.90 609.38,294.13 610.26,294.42 611.18,294.03 612.14,293.66 613.12,294.21 614.14,293.81 615.18,294.30 616.25,293.99 617.34,294.39 618.45,294.61 619.57,294.83 620.71,294.71 621.86,294.92 623.01,294.52 624.18,294.69 625.35,294.52 626.51,294.90 627.68,295.02 628.84,294.86 630.00,294.82 630.93,294.41 631.86,294.19 632.80,294.52 633.76,294.63 634.72,294.99 635.68,294.99 636.66,294.62 637.64,294.59 638.63,294.91 639.63,294.88 640.64,294.47 641.65,294.90 642.67,295.13 643.70,294.66 644.73,294.78 645.77,294.71 646.82,295.00 647.87,294.78 648.93,294.59 649.99,294.70 651.06,295.14 652.13,294.69 653.21,294.46 654.30,294.74 655.39,295.10 656.48,295.01 657.58,294.90 658.68,295.18 659.79,295.28 660.90,294.77 661.86,295.14 662.82,294.80 663.80,294.70 664.78,295.08 665.77,294.96 666.76,295.20 667.76,294.84 668.77,295.20 669.78,294.85 670.79,294.64 671.81,294.81 672.84,294.78 673.87,294.93 674.90,295.31 675.94,295.37 676.97,294.84 678.02,294.80 679.06,294.97 680.10,295.03 681.15,295.24 682.20,295.18 683.25,294.83 684.30,294.78 685.35,295.23 686.40,295.10 687.45,295.36 688.49,295.68 689.54,295.58 690.58,295.57 691.63,295.51 692.67,295.25 693.71,295.59 694.74,295.43 695.77,295.70 696.80,295.37 697.83,295.65 698.85,295.74 699.88,295.65 700.92,295.48 701.95,295.14 702.98,295.47 704.01,295.33 705.05,295.49 706.08,295.17 707.12,294.95 708.15,294.89 709.19,295.39 710.23,295.16 711.26,295.62 712.30,295.46 713.33,295.54 714.36,295.40 715.40,295.55 716.43,295.22 717.46,295.29 718.49,295.76 719.52,295.42 720.55,295.62 721.57,295.48 722.60,295.38 723.62,295.12 724.64,294.98 725.65,295.65 726.67,295.93 727.68,296.08 728.69,296.17 729.70,296.35 730.70,295.82 731.70,295.88 732.70,295.85 733.77,295.92 734.86,296.25 735.98,296.31 737.11,296.53 738.26,295.98 739.43,296.13 740.61,296.25 741.79,296.38 742.98,296.38 744.18,296.56 745.37,296.26 746.57,296.62 747.76,296.41 748.94,296.47 750.11,296.77 751.27,296.79 752.41,296.51 753.54,296.31 754.65,296.30 755.73,296.55 756.79,297.00 757.81,297.19 758.81,296.91 759.78,296.78 760.70,297.05 761.59,296.79 762.44,296.76 763.24,296.44 764.00,296.41 764.70,296.69 765.36,296.98 765.96,297.09 766.50,296.95" fill="none" stroke="#4a4aff" stroke-width="1.3" stroke-linejoin="round" />
<text x="586.20" y="70.10" font-size="12.5" fill="#ff4040" stroke="#ff4040" stroke-width="0.25" text-anchor="start" style="font-family:'Liberation Sans', sans-serif" >Cu</text>
<text x="581.20" y="276.10" font-size="12.5" fill="#4a4aff" stroke="#4a4aff" stroke-width="0.25" text-anchor="start" style="font-family:'Liberation Sans', sans-serif" >C</text>
<line x1="60.15" y1="369.70" x2="374.70" y2="369.70" stroke="#5a5a5a" stroke-width="1.5" />
<line x1="60.90" y1="369.70" x2="60.90" y2="627.60" stroke="#5a5a5a" stroke-width="1.5" />
<line x1="60.15" y1="627.60" x2="374.70" y2="627.60" stroke="#5a5a5a" stroke-width="1.5" />
<line x1="55.90" y1="627.60" x2="60.90" y2="627.60" stroke="#5a5a5a" stroke-width="1.3" />
<line x1="55.90" y1="598.94" x2="60.90" y2="598.94" stroke="#5a5a5a" stroke-width="1.3" />
<line x1="55.90" y1="570.29" x2="60.90" y2="570.29" stroke="#5a5a5a" stroke-width="1.3" />
<line x1="55.90" y1="541.63" x2="60.90" y2="541.63" stroke="#5a5a5a" stroke-width="1.3" />
<line x1="55.90" y1="512.98" x2="60.90" y2="512.98" stroke="#5a5a5a" stroke-width="1.3" />
<line x1="55.90" y1="484.32" x2="60.90" y2="484.32" stroke="#5a5a5a" stroke-width="1.3" />
<line x1="55.90" y1="455.67" x2="60.90" y2="455.67" stroke="#5a5a5a" stroke-width="1.3" />
<line x1="55.90" y1="427.01" x2="60.90" y2="427.01" stroke="#5a5a5a" stroke-width="1.3" />
<line x1="55.90" y1="398.36" x2="60.90" y2="398.36" stroke="#5a5a5a" stroke-width="1.3" />
<line x1="55.90" y1="369.70" x2="60.90" y2="369.70" stroke="#5a5a5a" stroke-width="1.3" />
<line x1="57.90" y1="613.27" x2="60.90" y2="613.27" stroke="#5a5a5a" stroke-width="1.3" />
<line x1="57.90" y1="584.62" x2="60.90" y2="584.62" stroke="#5a5a5a" stroke-width="1.3" />
<line x1="57.90" y1="555.96" x2="60.90" y2="555.96" stroke="#5a5a5a" stroke-width="1.3" />
<line x1="57.90" y1="527.31" x2="60.90" y2="527.31" stroke="#5a5a5a" stroke-width="1.3" />
<line x1="57.90" y1="498.65" x2="60.90" y2="498.65" stroke="#5a5a5a" stroke-width="1.3" />
<line x1="57.90" y1="469.99" x2="60.90" y2="469.99" stroke="#5a5a5a" stroke-width="1.3" />
<line x1="57.90" y1="441.34" x2="60.90" y2="441.34" stroke="#5a5a5a" stroke-width="1.3" />
<line x1="57.90" y1="412.68" x2="60.90" y2="412.68" stroke="#5a5a5a" stroke-width="1.3" />
<line x1="57.90" y1="384.03" x2="60.90" y2="384.03" stroke="#5a5a5a" stroke-width="1.3" />
<line x1="60.90" y1="627.60" x2="60.90" y2="632.60" stroke="#5a5a5a" stroke-width="1.3" />
<line x1="121.83" y1="627.60" x2="121.83" y2="632.60" stroke="#5a5a5a" stroke-width="1.3" />
<line x1="182.76" y1="627.60" x2="182.76" y2="632.60" stroke="#5a5a5a" stroke-width="1.3" />
<line x1="243.70" y1="627.60" x2="243.70" y2="632.60" stroke="#5a5a5a" stroke-width="1.3" />
<line x1="304.63" y1="627.60" x2="304.63" y2="632.60" stroke="#5a5a5a" stroke-width="1.3" />
<line x1="365.56" y1="627.60" x2="365.56" y2="632.60" stroke="#5a5a5a" stroke-width="1.3" />
<line x1="91.37" y1="627.60" x2="91.37" y2="630.60" stroke="#5a5a5a" stroke-width="1.3" />
<line x1="152.30" y1="627.60" x2="152.30" y2="630.60" stroke="#5a5a5a" stroke-width="1.3" />
<line x1="213.23" y1="627.60" x2="213.23" y2="630.60" stroke="#5a5a5a" stroke-width="1.3" />
<line x1="274.16" y1="627.60" x2="274.16" y2="630.60" stroke="#5a5a5a" stroke-width="1.3" />
<line x1="335.09" y1="627.60" x2="335.09" y2="630.60" stroke="#5a5a5a" stroke-width="1.3" />
<text transform="translate(52.80 630.80) rotate(0) scale(0.94 1)" font-size="11.4" fill="#1c1c1c" stroke="#1c1c1c" stroke-width="0.25" text-anchor="end" style="font-family:'Liberation Sans', sans-serif">−20</text>
<text transform="translate(52.80 602.14) rotate(0) scale(0.94 1)" font-size="11.4" fill="#1c1c1c" stroke="#1c1c1c" stroke-width="0.25" text-anchor="end" style="font-family:'Liberation Sans', sans-serif">0</text>
<text transform="translate(52.80 573.49) rotate(0) scale(0.94 1)" font-size="11.4" fill="#1c1c1c" stroke="#1c1c1c" stroke-width="0.25" text-anchor="end" style="font-family:'Liberation Sans', sans-serif">20</text>
<text transform="translate(52.80 544.83) rotate(0) scale(0.94 1)" font-size="11.4" fill="#1c1c1c" stroke="#1c1c1c" stroke-width="0.25" text-anchor="end" style="font-family:'Liberation Sans', sans-serif">40</text>
<text transform="translate(52.80 516.18) rotate(0) scale(0.94 1)" font-size="11.4" fill="#1c1c1c" stroke="#1c1c1c" stroke-width="0.25" text-anchor="end" style="font-family:'Liberation Sans', sans-serif">60</text>
<text transform="translate(52.80 487.52) rotate(0) scale(0.94 1)" font-size="11.4" fill="#1c1c1c" stroke="#1c1c1c" stroke-width="0.25" text-anchor="end" style="font-family:'Liberation Sans', sans-serif">80</text>
<text transform="translate(52.80 458.87) rotate(0) scale(0.94 1)" font-size="11.4" fill="#1c1c1c" stroke="#1c1c1c" stroke-width="0.25" text-anchor="end" style="font-family:'Liberation Sans', sans-serif">100</text>
<text transform="translate(52.80 430.21) rotate(0) scale(0.94 1)" font-size="11.4" fill="#1c1c1c" stroke="#1c1c1c" stroke-width="0.25" text-anchor="end" style="font-family:'Liberation Sans', sans-serif">120</text>
<text transform="translate(52.80 401.56) rotate(0) scale(0.94 1)" font-size="11.4" fill="#1c1c1c" stroke="#1c1c1c" stroke-width="0.25" text-anchor="end" style="font-family:'Liberation Sans', sans-serif">140</text>
<text transform="translate(52.80 372.90) rotate(0) scale(0.94 1)" font-size="11.4" fill="#1c1c1c" stroke="#1c1c1c" stroke-width="0.25" text-anchor="end" style="font-family:'Liberation Sans', sans-serif">160</text>
<text transform="translate(60.90 644.80) rotate(0) scale(0.94 1)" font-size="11.4" fill="#1c1c1c" stroke="#1c1c1c" stroke-width="0.25" text-anchor="middle" style="font-family:'Liberation Sans', sans-serif">0</text>
<text transform="translate(121.83 644.80) rotate(0) scale(0.94 1)" font-size="11.4" fill="#1c1c1c" stroke="#1c1c1c" stroke-width="0.25" text-anchor="middle" style="font-family:'Liberation Sans', sans-serif">200</text>
<text transform="translate(182.76 644.80) rotate(0) scale(0.94 1)" font-size="11.4" fill="#1c1c1c" stroke="#1c1c1c" stroke-width="0.25" text-anchor="middle" style="font-family:'Liberation Sans', sans-serif">400</text>
<text transform="translate(243.70 644.80) rotate(0) scale(0.94 1)" font-size="11.4" fill="#1c1c1c" stroke="#1c1c1c" stroke-width="0.25" text-anchor="middle" style="font-family:'Liberation Sans', sans-serif">600</text>
<text transform="translate(304.63 644.80) rotate(0) scale(0.94 1)" font-size="11.4" fill="#1c1c1c" stroke="#1c1c1c" stroke-width="0.25" text-anchor="middle" style="font-family:'Liberation Sans', sans-serif">800</text>
<text transform="translate(365.56 644.80) rotate(0) scale(0.94 1)" font-size="11.4" fill="#1c1c1c" stroke="#1c1c1c" stroke-width="0.25" text-anchor="middle" style="font-family:'Liberation Sans', sans-serif">1000</text>
<line x1="374.70" y1="368.95" x2="374.70" y2="628.35" stroke="#4a4aff" stroke-width="1.5" />
<line x1="369.70" y1="627.60" x2="374.70" y2="627.60" stroke="#4a4aff" stroke-width="1.3" />
<line x1="369.70" y1="576.02" x2="374.70" y2="576.02" stroke="#4a4aff" stroke-width="1.3" />
<line x1="369.70" y1="524.44" x2="374.70" y2="524.44" stroke="#4a4aff" stroke-width="1.3" />
<line x1="369.70" y1="472.86" x2="374.70" y2="472.86" stroke="#4a4aff" stroke-width="1.3" />
<line x1="369.70" y1="421.28" x2="374.70" y2="421.28" stroke="#4a4aff" stroke-width="1.3" />
<line x1="369.70" y1="369.70" x2="374.70" y2="369.70" stroke="#4a4aff" stroke-width="1.3" />
<line x1="371.70" y1="601.81" x2="374.70" y2="601.81" stroke="#4a4aff" stroke-width="1.3" />
<line x1="371.70" y1="550.23" x2="374.70" y2="550.23" stroke="#4a4aff" stroke-width="1.3" />
<line x1="371.70" y1="498.65" x2="374.70" y2="498.65" stroke="#4a4aff" stroke-width="1.3" />
<line x1="371.70" y1="447.07" x2="374.70" y2="447.07" stroke="#4a4aff" stroke-width="1.3" />
<line x1="371.70" y1="395.49" x2="374.70" y2="395.49" stroke="#4a4aff" stroke-width="1.3" />
<text transform="translate(380.40 631.25) rotate(0) scale(0.94 1)" font-size="11.4" fill="#3c3cff" stroke="#3c3cff" stroke-width="0.25" text-anchor="start" style="font-family:'Liberation Sans', sans-serif">0</text>
<text transform="translate(380.40 579.67) rotate(0) scale(0.94 1)" font-size="11.4" fill="#3c3cff" stroke="#3c3cff" stroke-width="0.25" text-anchor="start" style="font-family:'Liberation Sans', sans-serif">2</text>
<text transform="translate(380.40 528.09) rotate(0) scale(0.94 1)" font-size="11.4" fill="#3c3cff" stroke="#3c3cff" stroke-width="0.25" text-anchor="start" style="font-family:'Liberation Sans', sans-serif">4</text>
<text transform="translate(380.40 476.51) rotate(0) scale(0.94 1)" font-size="11.4" fill="#3c3cff" stroke="#3c3cff" stroke-width="0.25" text-anchor="start" style="font-family:'Liberation Sans', sans-serif">6</text>
<text transform="translate(380.40 424.93) rotate(0) scale(0.94 1)" font-size="11.4" fill="#3c3cff" stroke="#3c3cff" stroke-width="0.25" text-anchor="start" style="font-family:'Liberation Sans', sans-serif">8</text>
<text transform="translate(380.40 373.35) rotate(0) scale(0.94 1)" font-size="11.4" fill="#3c3cff" stroke="#3c3cff" stroke-width="0.25" text-anchor="start" style="font-family:'Liberation Sans', sans-serif">10</text>
<text transform="translate(20.20 491.60) rotate(-90) scale(1.04 1)" font-size="13" fill="#1c1c1c" stroke="#1c1c1c" stroke-width="0.25" text-anchor="middle" style="font-family:'Liberation Sans', sans-serif">Intensity(V)</text>
<text transform="translate(218.35 666.90) rotate(0) scale(1.04 1)" font-size="13" fill="#1c1c1c" stroke="#1c1c1c" stroke-width="0.25" text-anchor="middle" style="font-family:'Liberation Sans', sans-serif">Depth (nm)</text>
<polyline points="61.70,582.36 62.08,581.63 62.63,580.52 63.20,579.35 63.59,578.43 63.99,577.62 64.41,576.16 64.90,574.77 65.15,574.24 65.42,573.38 65.70,572.58 65.99,571.29 66.29,570.27 66.59,569.12 66.88,568.15 67.15,567.15 67.40,565.86 67.61,564.88 67.81,563.92 68.01,563.26 68.19,562.36 68.38,561.10 68.55,560.27 68.72,559.02 68.88,558.11 69.04,556.91 69.20,555.75 69.35,555.10 69.49,553.97 69.63,552.91 69.76,552.28 69.89,551.43 70.01,550.22 70.13,549.44 70.25,548.33 70.38,547.32 70.50,546.05 70.61,545.32 70.73,544.36 70.84,543.51 70.95,542.56 71.06,541.28 71.17,540.14 71.28,538.95 71.39,537.81 71.50,536.66 71.60,535.67 71.70,534.79 71.79,533.59 71.88,532.81 71.97,531.74 72.05,530.66 72.14,529.85 72.22,528.75 72.30,527.59 72.38,526.56 72.46,525.62 72.54,524.31 72.62,523.58 72.70,522.24 72.78,521.39 72.86,520.49 72.94,519.10 73.02,518.24 73.10,517.08 73.17,516.07 73.25,514.76 73.33,513.60 73.40,512.57 73.47,511.96 73.54,510.82 73.60,510.05 73.67,509.17 73.74,508.27 73.80,507.07 73.86,506.01 73.91,505.11 73.97,504.32 74.02,503.10 74.08,502.28 74.14,501.33 74.20,500.28 74.25,499.06 74.29,498.44 74.34,497.27 74.39,496.33 74.44,495.52 74.49,494.79 74.54,493.65 74.59,492.86 74.64,491.75 74.69,490.54 74.74,489.37 74.79,488.13 74.85,486.86 74.90,485.64 74.94,485.03 74.98,484.41 75.01,483.20 75.05,482.02 75.09,481.37 75.13,480.31 75.16,479.19 75.20,477.99 75.24,477.03 75.28,476.13 75.32,474.96 75.36,473.83 75.40,472.55 75.44,471.81 75.48,470.51 75.53,469.59 75.57,468.83 75.61,467.65 75.66,466.91 75.70,466.25 75.77,464.92 75.84,463.73 75.92,462.21 75.99,461.03 76.07,459.75 76.14,458.92 76.22,457.73 76.30,456.72 76.38,456.02 76.46,455.16 76.54,454.36 76.62,453.31 76.70,452.40 76.87,450.90 77.04,449.47 77.22,448.19 77.40,447.16 77.59,446.12 77.80,445.32 78.21,444.26 78.67,443.45 79.30,442.53 79.92,441.69 80.71,440.97 82.40,440.19 83.08,440.00 83.83,440.08 84.65,440.10 85.53,439.78 86.48,439.74 87.50,439.65 88.57,439.48 89.72,439.30 90.92,439.17 92.18,438.83 93.50,438.74 94.35,438.46 95.24,438.37 96.17,438.41 97.13,438.35 98.13,438.07 99.15,438.19 100.19,438.06 101.26,437.91 102.34,437.49 103.43,437.48 104.53,437.28 105.63,437.33 106.73,437.21 107.83,437.27 108.92,437.17 110.00,437.15 111.06,436.86 112.10,436.80 113.13,436.77 114.16,436.75 115.19,436.45 116.22,436.48 117.24,436.46 118.27,436.31 119.30,436.32 120.32,436.27 121.35,435.97 122.38,435.77 123.40,435.43 124.43,435.53 125.46,435.58 126.48,435.34 127.51,435.27 128.54,435.20 129.57,435.12 130.60,434.76 131.64,434.83 132.68,434.72 133.74,434.66 134.80,434.47 135.87,434.42 136.93,434.43 138.00,434.33 139.07,434.28 140.13,433.86 141.19,433.67 142.24,433.66 143.28,433.73 144.31,433.51 145.32,433.60 146.32,433.58 147.30,433.25 148.26,433.25 149.20,433.10 150.40,432.88 151.61,432.77 152.82,432.77 154.03,432.67 155.22,432.59 156.39,432.44 157.53,432.55 158.63,432.54 159.69,432.62 160.69,432.63 161.63,432.44 162.50,432.64 163.29,432.28 164.00,432.26 165.51,431.99 165.78,431.85 167.70,431.53 168.36,431.78 169.11,431.67 169.93,431.42 170.81,431.56 171.76,431.36 172.77,431.45 173.82,431.38 174.90,431.45 176.02,431.65 177.16,431.68 178.31,431.47 179.48,431.54 180.64,431.47 181.80,431.28 182.94,431.05 184.06,431.13 185.15,431.14 186.20,431.33 187.23,431.43 188.25,431.29 189.28,431.07 190.30,431.21 191.31,430.83 192.33,430.66 193.35,430.78 194.37,430.86 195.39,430.66 196.42,430.78 197.45,430.96 198.48,430.79 199.51,430.72 200.56,430.56 201.61,430.50 202.66,430.79 203.73,430.64 204.80,430.84 205.78,430.91 206.76,430.79 207.76,430.54 208.76,430.75 209.78,430.62 210.80,430.49 211.82,430.36 212.85,430.62 213.88,430.50 214.91,430.32 215.94,430.31 216.97,430.11 217.99,430.24 219.01,430.21 220.03,430.11 221.04,430.29 222.05,430.39 223.04,430.03 224.03,430.07 225.00,429.96 226.07,430.20 227.13,430.24 228.18,429.98 229.22,429.82 230.26,429.66 231.29,429.97 232.31,429.77 233.33,429.80 234.35,429.73 235.36,429.75 236.38,429.73 237.39,429.76 238.40,429.44 239.41,429.57 240.43,429.39 241.45,429.38 242.47,429.26 243.50,429.15 244.53,429.18 245.56,429.14 246.60,429.04 247.63,429.15 248.66,429.11 249.70,428.78 250.73,428.68 251.77,428.69 252.80,428.91 253.83,428.99 254.87,428.84 255.90,428.46 256.94,428.62 257.97,428.52 259.00,428.52 260.04,428.57 261.07,428.55 262.10,428.46 263.13,428.63 264.16,428.45 265.19,428.36 266.22,428.55 267.24,428.33 268.27,428.27 269.30,428.51 270.32,428.27 271.35,428.53 272.38,428.62 273.40,428.55 274.43,428.45 275.46,428.66 276.48,428.85 277.51,428.58 278.54,428.62 279.57,428.68 280.60,428.70 281.63,428.64 282.66,428.53 283.70,428.70 284.73,428.92 285.76,428.69 286.80,428.65 287.83,428.94 288.87,429.10 289.90,429.14 290.93,428.86 291.97,429.07 293.00,429.33 294.04,429.50 295.07,429.46 296.10,429.13 297.14,429.37 298.17,429.20 299.20,429.34 300.24,429.59 301.31,429.63 302.40,429.39 303.49,429.35 304.60,429.68 305.71,429.49 306.83,429.65 307.93,429.66 309.03,429.56 310.11,429.76 311.18,429.61 312.22,429.57 313.23,429.71 314.21,429.64 315.15,429.62 316.05,429.87 316.90,430.10 317.70,430.30 319.09,430.04 320.21,430.04 321.14,429.97 321.96,430.05 322.74,430.02 323.56,430.19 324.49,429.98 325.61,429.67 327.00,429.79 327.78,429.58 328.59,429.69 329.43,429.65 330.29,429.81 331.18,429.69 332.10,429.63 333.05,429.39 334.02,429.37 335.02,429.18 336.06,429.30 337.13,429.22 338.22,428.97 339.35,428.85 340.51,428.84 341.71,429.00 342.94,428.79 344.20,428.94 345.50,428.99 346.38,428.74 347.31,428.89 348.30,428.68 349.34,428.59 350.41,428.78 351.53,428.71 352.67,429.00 353.84,428.97 355.03,428.88 356.24,429.07 357.45,428.81 358.67,429.02 359.89,428.81 361.11,428.75 362.31,429.13 363.49,429.21 364.65,429.04 365.78,428.90 366.88,429.27 367.95,429.32 368.96,429.44 369.93,429.17 370.84,429.27 371.70,429.20 372.48,429.11 373.20,429.11 373.84,429.25 374.40,429.20" fill="none" stroke="#303030" stroke-width="1.25" stroke-linejoin="round" />
<polyline points="61.60,580.80 62.05,580.59 62.69,580.29 63.43,579.95 64.20,579.60 64.84,579.31 65.53,578.99 66.24,578.67 66.95,578.37 67.60,578.10 68.36,577.80 69.09,577.51 69.77,577.30 70.40,577.20 71.15,577.24 71.81,577.47 72.40,577.90 72.79,578.36 73.14,578.94 73.46,579.65 73.80,580.50 74.00,581.06 74.19,581.67 74.37,582.33 74.57,583.03 74.76,583.76 74.97,584.52 75.20,585.30 75.39,585.94 75.59,586.62 75.79,587.33 76.00,588.06 76.22,588.80 76.44,589.52 76.66,590.22 76.88,590.89 77.10,591.50 77.42,592.35 77.73,593.14 78.04,593.89 78.37,594.58 78.72,595.22 79.10,595.80 79.58,596.43 80.07,596.99 80.60,597.48 81.20,597.88 81.90,598.20 81.33,598.39 79.33,598.50 77.39,598.55 76.99,598.57 79.60,598.58 86.70,598.60 87.07,598.60 87.45,598.60 87.83,598.60 88.21,598.60 88.61,598.61 89.01,598.61 89.41,598.61 89.82,598.61 90.24,598.61 90.66,598.61 91.09,598.61 91.52,598.61 91.96,598.61 92.41,598.61 92.86,598.62 93.31,598.62 93.77,598.62 94.24,598.62 94.71,598.62 95.19,598.62 95.67,598.62 96.16,598.62 96.65,598.62 97.15,598.62 97.66,598.62 98.17,598.62 98.68,598.62 99.20,598.62 99.72,598.62 100.25,598.62 100.79,598.63 101.33,598.63 101.87,598.63 102.42,598.63 102.97,598.63 103.53,598.63 104.09,598.63 104.66,598.63 105.23,598.63 105.81,598.63 106.39,598.63 106.98,598.63 107.57,598.63 108.17,598.63 108.77,598.63 109.37,598.63 109.98,598.63 110.60,598.63 111.21,598.63 111.84,598.63 112.46,598.63 113.09,598.63 113.73,598.63 114.37,598.63 115.01,598.63 115.66,598.63 116.31,598.63 116.97,598.63 117.63,598.63 118.29,598.63 118.96,598.63 119.63,598.63 120.31,598.63 120.99,598.63 121.67,598.63 122.36,598.63 123.05,598.63 123.74,598.63 124.44,598.63 125.15,598.63 125.85,598.63 126.56,598.63 127.27,598.63 127.99,598.63 128.71,598.63 129.43,598.63 130.16,598.63 130.89,598.63 131.62,598.63 132.36,598.63 133.10,598.62 133.85,598.62 134.59,598.62 135.34,598.62 136.10,598.62 136.85,598.62 137.61,598.62 138.37,598.62 139.14,598.62 139.91,598.62 140.68,598.62 141.45,598.62 142.23,598.62 143.01,598.62 143.79,598.62 144.58,598.62 145.37,598.62 146.16,598.62 146.95,598.62 147.75,598.62 148.55,598.62 149.35,598.62 150.15,598.62 150.96,598.62 151.77,598.62 152.58,598.62 153.39,598.61 154.21,598.61 155.03,598.61 155.85,598.61 156.67,598.61 157.50,598.61 158.33,598.61 159.16,598.61 159.99,598.61 160.82,598.61 161.66,598.61 162.50,598.61 163.34,598.61 164.18,598.61 165.03,598.61 165.87,598.61 166.72,598.61 167.57,598.61 168.42,598.61 169.28,598.61 170.13,598.61 170.99,598.61 171.85,598.61 172.71,598.61 173.57,598.61 174.43,598.61 175.30,598.60 176.16,598.60 177.03,598.60 177.90,598.60 178.77,598.60 179.64,598.60 180.52,598.60 181.39,598.60 182.27,598.60 183.14,598.60 184.02,598.60 184.90,598.60 185.78,598.60 186.66,598.60 187.55,598.60 188.43,598.60 189.32,598.60 190.20,598.60 191.09,598.60 191.98,598.60 192.87,598.60 193.75,598.60 194.64,598.60 195.54,598.60 196.43,598.60 197.32,598.60 198.21,598.60 199.11,598.60 200.00,598.60 200.58,598.60 201.17,598.60 201.76,598.60 202.35,598.60 202.95,598.60 203.55,598.60 204.16,598.60 204.78,598.60 205.39,598.60 206.02,598.60 206.64,598.60 207.27,598.60 207.91,598.60 208.55,598.60 209.19,598.60 209.84,598.60 210.49,598.60 211.14,598.60 211.80,598.60 212.46,598.60 213.13,598.60 213.80,598.60 214.48,598.60 215.16,598.60 215.84,598.60 216.52,598.60 217.21,598.60 217.91,598.60 218.60,598.60 219.30,598.60 220.01,598.60 220.71,598.60 221.42,598.60 222.14,598.60 222.85,598.60 223.57,598.60 224.29,598.60 225.02,598.60 225.75,598.60 226.48,598.60 227.22,598.60 227.95,598.60 228.70,598.60 229.44,598.60 230.19,598.60 230.93,598.60 231.69,598.60 232.44,598.60 233.20,598.60 233.96,598.60 234.72,598.60 235.48,598.60 236.25,598.60 237.02,598.60 237.79,598.60 238.57,598.60 239.34,598.60 240.12,598.60 240.90,598.60 241.68,598.60 242.47,598.60 243.26,598.60 244.04,598.60 244.83,598.60 245.63,598.60 246.42,598.60 247.22,598.60 248.01,598.60 248.81,598.60 249.62,598.60 250.42,598.60 251.22,598.60 252.03,598.60 252.83,598.60 253.64,598.60 254.45,598.60 255.26,598.60 256.08,598.60 256.89,598.60 257.70,598.60 258.52,598.60 259.34,598.60 260.16,598.60 260.97,598.60 261.79,598.60 262.62,598.60 263.44,598.60 264.26,598.60 265.08,598.60 265.91,598.60 266.73,598.60 267.56,598.60 268.38,598.60 269.21,598.60 270.04,598.60 270.86,598.60 271.69,598.60 272.52,598.60 273.35,598.60 274.18,598.60 275.01,598.60 275.83,598.60 276.66,598.60 277.49,598.60 278.32,598.60 279.15,598.60 279.98,598.60 280.81,598.60 281.64,598.60 282.47,598.60 283.30,598.60 284.12,598.60 284.95,598.60 285.78,598.60 286.61,598.60 287.43,598.60 288.26,598.60 289.08,598.60 289.91,598.60 290.73,598.60 291.56,598.60 292.38,598.60 293.20,598.60 294.02,598.60 294.84,598.60 295.66,598.60 296.48,598.60 297.30,598.60 298.11,598.60 298.93,598.60 299.74,598.60 300.55,598.60 301.36,598.60 302.17,598.60 302.98,598.60 303.79,598.60 304.60,598.60 305.40,598.60 306.20,598.60 307.01,598.60 307.80,598.60 308.60,598.60 309.40,598.60 310.19,598.60 310.99,598.60 311.78,598.60 312.57,598.60 313.35,598.60 314.14,598.60 314.92,598.60 315.70,598.60 316.48,598.60 317.26,598.60 318.03,598.60 318.80,598.60 319.57,598.60 320.34,598.60 321.11,598.60 321.87,598.60 322.63,598.60 323.39,598.60 324.14,598.60 324.89,598.60 325.64,598.60 326.39,598.60 327.13,598.60 327.87,598.60 328.61,598.60 329.35,598.60 330.08,598.60 330.81,598.60 331.54,598.60 332.26,598.60 332.98,598.60 333.70,598.60 334.41,598.60 335.12,598.60 335.83,598.60 336.53,598.60 337.23,598.60 337.93,598.60 338.62,598.60 339.31,598.60 340.00,598.60 340.68,598.60 341.36,598.60 342.04,598.60 342.71,598.60 343.38,598.60 344.04,598.60 344.70,598.60 345.36,598.60 346.01,598.60 346.66,598.60 347.30,598.60 347.94,598.60 348.58,598.60 349.21,598.60 349.83,598.60 350.46,598.60 351.07,598.60 351.69,598.60 352.30,598.60 352.90,598.60 353.50,598.60 354.10,598.60 354.69,598.60 355.28,598.60 355.86,598.60 356.43,598.60 357.01,598.60 357.57,598.60 358.13,598.60 358.69,598.60 359.24,598.60 359.79,598.60 360.33,598.60 360.87,598.60 361.40,598.60 361.93,598.60 362.45,598.60 362.96,598.60 363.47,598.60 363.98,598.60 364.48,598.60 364.97,598.60 365.46,598.60 365.94,598.60 366.42,598.60 366.89,598.60 367.36,598.60 367.82,598.60 368.27,598.60 368.72,598.60 369.16,598.60 369.60,598.60 370.03,598.60 370.45,598.60 370.87,598.60 371.28,598.60 371.69,598.60 372.08,598.60 372.48,598.60 372.86,598.60 373.24,598.60 373.62,598.60 373.99,598.60 374.35,598.60 374.70,598.60" fill="none" stroke="#4a4aff" stroke-width="1.5" stroke-linejoin="round" />
<text x="104.60" y="431.20" font-size="13" fill="#111" stroke="#111" stroke-width="0.25" text-anchor="start" style="font-family:'Liberation Sans', sans-serif" >Ni</text>
<text x="131.60" y="596.90" font-size="13" fill="#4a4aff" stroke="#4a4aff" stroke-width="0.25" text-anchor="start" style="font-family:'Liberation Sans', sans-serif" >C</text>
<line x1="456.55" y1="376.00" x2="769.30" y2="376.00" stroke="#5a5a5a" stroke-width="1.5" />
<line x1="457.30" y1="376.00" x2="457.30" y2="631.60" stroke="#5a5a5a" stroke-width="1.5" />
<line x1="456.55" y1="631.60" x2="769.30" y2="631.60" stroke="#5a5a5a" stroke-width="1.5" />
<line x1="452.30" y1="631.60" x2="457.30" y2="631.60" stroke="#5a5a5a" stroke-width="1.3" />
<line x1="452.30" y1="603.20" x2="457.30" y2="603.20" stroke="#5a5a5a" stroke-width="1.3" />
<line x1="452.30" y1="574.80" x2="457.30" y2="574.80" stroke="#5a5a5a" stroke-width="1.3" />
<line x1="452.30" y1="546.40" x2="457.30" y2="546.40" stroke="#5a5a5a" stroke-width="1.3" />
<line x1="452.30" y1="518.00" x2="457.30" y2="518.00" stroke="#5a5a5a" stroke-width="1.3" />
<line x1="452.30" y1="489.60" x2="457.30" y2="489.60" stroke="#5a5a5a" stroke-width="1.3" />
<line x1="452.30" y1="461.20" x2="457.30" y2="461.20" stroke="#5a5a5a" stroke-width="1.3" />
<line x1="452.30" y1="432.80" x2="457.30" y2="432.80" stroke="#5a5a5a" stroke-width="1.3" />
<line x1="452.30" y1="404.40" x2="457.30" y2="404.40" stroke="#5a5a5a" stroke-width="1.3" />
<line x1="452.30" y1="376.00" x2="457.30" y2="376.00" stroke="#5a5a5a" stroke-width="1.3" />
<line x1="454.30" y1="617.40" x2="457.30" y2="617.40" stroke="#5a5a5a" stroke-width="1.3" />
<line x1="454.30" y1="589.00" x2="457.30" y2="589.00" stroke="#5a5a5a" stroke-width="1.3" />
<line x1="454.30" y1="560.60" x2="457.30" y2="560.60" stroke="#5a5a5a" stroke-width="1.3" />
<line x1="454.30" y1="532.20" x2="457.30" y2="532.20" stroke="#5a5a5a" stroke-width="1.3" />
<line x1="454.30" y1="503.80" x2="457.30" y2="503.80" stroke="#5a5a5a" stroke-width="1.3" />
<line x1="454.30" y1="475.40" x2="457.30" y2="475.40" stroke="#5a5a5a" stroke-width="1.3" />
<line x1="454.30" y1="447.00" x2="457.30" y2="447.00" stroke="#5a5a5a" stroke-width="1.3" />
<line x1="454.30" y1="418.60" x2="457.30" y2="418.60" stroke="#5a5a5a" stroke-width="1.3" />
<line x1="454.30" y1="390.20" x2="457.30" y2="390.20" stroke="#5a5a5a" stroke-width="1.3" />
<line x1="457.30" y1="631.60" x2="457.30" y2="636.60" stroke="#5a5a5a" stroke-width="1.3" />
<line x1="518.06" y1="631.60" x2="518.06" y2="636.60" stroke="#5a5a5a" stroke-width="1.3" />
<line x1="578.82" y1="631.60" x2="578.82" y2="636.60" stroke="#5a5a5a" stroke-width="1.3" />
<line x1="639.58" y1="631.60" x2="639.58" y2="636.60" stroke="#5a5a5a" stroke-width="1.3" />
<line x1="700.34" y1="631.60" x2="700.34" y2="636.60" stroke="#5a5a5a" stroke-width="1.3" />
<line x1="761.10" y1="631.60" x2="761.10" y2="636.60" stroke="#5a5a5a" stroke-width="1.3" />
<line x1="487.68" y1="631.60" x2="487.68" y2="634.60" stroke="#5a5a5a" stroke-width="1.3" />
<line x1="548.44" y1="631.60" x2="548.44" y2="634.60" stroke="#5a5a5a" stroke-width="1.3" />
<line x1="609.20" y1="631.60" x2="609.20" y2="634.60" stroke="#5a5a5a" stroke-width="1.3" />
<line x1="669.96" y1="631.60" x2="669.96" y2="634.60" stroke="#5a5a5a" stroke-width="1.3" />
<line x1="730.72" y1="631.60" x2="730.72" y2="634.60" stroke="#5a5a5a" stroke-width="1.3" />
<text transform="translate(449.20 634.80) rotate(0) scale(0.94 1)" font-size="11.4" fill="#1c1c1c" stroke="#1c1c1c" stroke-width="0.25" text-anchor="end" style="font-family:'Liberation Sans', sans-serif">−20</text>
<text transform="translate(449.20 606.40) rotate(0) scale(0.94 1)" font-size="11.4" fill="#1c1c1c" stroke="#1c1c1c" stroke-width="0.25" text-anchor="end" style="font-family:'Liberation Sans', sans-serif">0</text>
<text transform="translate(449.20 578.00) rotate(0) scale(0.94 1)" font-size="11.4" fill="#1c1c1c" stroke="#1c1c1c" stroke-width="0.25" text-anchor="end" style="font-family:'Liberation Sans', sans-serif">20</text>
<text transform="translate(449.20 549.60) rotate(0) scale(0.94 1)" font-size="11.4" fill="#1c1c1c" stroke="#1c1c1c" stroke-width="0.25" text-anchor="end" style="font-family:'Liberation Sans', sans-serif">40</text>
<text transform="translate(449.20 521.20) rotate(0) scale(0.94 1)" font-size="11.4" fill="#1c1c1c" stroke="#1c1c1c" stroke-width="0.25" text-anchor="end" style="font-family:'Liberation Sans', sans-serif">60</text>
<text transform="translate(449.20 492.80) rotate(0) scale(0.94 1)" font-size="11.4" fill="#1c1c1c" stroke="#1c1c1c" stroke-width="0.25" text-anchor="end" style="font-family:'Liberation Sans', sans-serif">80</text>
<text transform="translate(449.20 464.40) rotate(0) scale(0.94 1)" font-size="11.4" fill="#1c1c1c" stroke="#1c1c1c" stroke-width="0.25" text-anchor="end" style="font-family:'Liberation Sans', sans-serif">100</text>
<text transform="translate(449.20 436.00) rotate(0) scale(0.94 1)" font-size="11.4" fill="#1c1c1c" stroke="#1c1c1c" stroke-width="0.25" text-anchor="end" style="font-family:'Liberation Sans', sans-serif">120</text>
<text transform="translate(449.20 407.60) rotate(0) scale(0.94 1)" font-size="11.4" fill="#1c1c1c" stroke="#1c1c1c" stroke-width="0.25" text-anchor="end" style="font-family:'Liberation Sans', sans-serif">140</text>
<text transform="translate(449.20 379.20) rotate(0) scale(0.94 1)" font-size="11.4" fill="#1c1c1c" stroke="#1c1c1c" stroke-width="0.25" text-anchor="end" style="font-family:'Liberation Sans', sans-serif">160</text>
<text transform="translate(457.30 648.80) rotate(0) scale(0.94 1)" font-size="11.4" fill="#1c1c1c" stroke="#1c1c1c" stroke-width="0.25" text-anchor="middle" style="font-family:'Liberation Sans', sans-serif">0</text>
<text transform="translate(518.06 648.80) rotate(0) scale(0.94 1)" font-size="11.4" fill="#1c1c1c" stroke="#1c1c1c" stroke-width="0.25" text-anchor="middle" style="font-family:'Liberation Sans', sans-serif">200</text>
<text transform="translate(578.82 648.80) rotate(0) scale(0.94 1)" font-size="11.4" fill="#1c1c1c" stroke="#1c1c1c" stroke-width="0.25" text-anchor="middle" style="font-family:'Liberation Sans', sans-serif">400</text>
<text transform="translate(639.58 648.80) rotate(0) scale(0.94 1)" font-size="11.4" fill="#1c1c1c" stroke="#1c1c1c" stroke-width="0.25" text-anchor="middle" style="font-family:'Liberation Sans', sans-serif">600</text>
<text transform="translate(700.34 648.80) rotate(0) scale(0.94 1)" font-size="11.4" fill="#1c1c1c" stroke="#1c1c1c" stroke-width="0.25" text-anchor="middle" style="font-family:'Liberation Sans', sans-serif">800</text>
<text transform="translate(761.10 648.80) rotate(0) scale(0.94 1)" font-size="11.4" fill="#1c1c1c" stroke="#1c1c1c" stroke-width="0.25" text-anchor="middle" style="font-family:'Liberation Sans', sans-serif">1000</text>
<line x1="769.30" y1="375.25" x2="769.30" y2="632.35" stroke="#4a4aff" stroke-width="1.5" />
<line x1="764.30" y1="631.60" x2="769.30" y2="631.60" stroke="#4a4aff" stroke-width="1.3" />
<line x1="764.30" y1="580.48" x2="769.30" y2="580.48" stroke="#4a4aff" stroke-width="1.3" />
<line x1="764.30" y1="529.36" x2="769.30" y2="529.36" stroke="#4a4aff" stroke-width="1.3" />
<line x1="764.30" y1="478.24" x2="769.30" y2="478.24" stroke="#4a4aff" stroke-width="1.3" />
<line x1="764.30" y1="427.12" x2="769.30" y2="427.12" stroke="#4a4aff" stroke-width="1.3" />
<line x1="764.30" y1="376.00" x2="769.30" y2="376.00" stroke="#4a4aff" stroke-width="1.3" />
<line x1="766.30" y1="606.04" x2="769.30" y2="606.04" stroke="#4a4aff" stroke-width="1.3" />
<line x1="766.30" y1="554.92" x2="769.30" y2="554.92" stroke="#4a4aff" stroke-width="1.3" />
<line x1="766.30" y1="503.80" x2="769.30" y2="503.80" stroke="#4a4aff" stroke-width="1.3" />
<line x1="766.30" y1="452.68" x2="769.30" y2="452.68" stroke="#4a4aff" stroke-width="1.3" />
<line x1="766.30" y1="401.56" x2="769.30" y2="401.56" stroke="#4a4aff" stroke-width="1.3" />
<text transform="translate(775.00 635.25) rotate(0) scale(0.94 1)" font-size="11.4" fill="#3c3cff" stroke="#3c3cff" stroke-width="0.25" text-anchor="start" style="font-family:'Liberation Sans', sans-serif">0</text>
<text transform="translate(775.00 584.13) rotate(0) scale(0.94 1)" font-size="11.4" fill="#3c3cff" stroke="#3c3cff" stroke-width="0.25" text-anchor="start" style="font-family:'Liberation Sans', sans-serif">2</text>
<text transform="translate(775.00 533.01) rotate(0) scale(0.94 1)" font-size="11.4" fill="#3c3cff" stroke="#3c3cff" stroke-width="0.25" text-anchor="start" style="font-family:'Liberation Sans', sans-serif">4</text>
<text transform="translate(775.00 481.89) rotate(0) scale(0.94 1)" font-size="11.4" fill="#3c3cff" stroke="#3c3cff" stroke-width="0.25" text-anchor="start" style="font-family:'Liberation Sans', sans-serif">6</text>
<text transform="translate(775.00 430.77) rotate(0) scale(0.94 1)" font-size="11.4" fill="#3c3cff" stroke="#3c3cff" stroke-width="0.25" text-anchor="start" style="font-family:'Liberation Sans', sans-serif">8</text>
<text transform="translate(775.00 379.65) rotate(0) scale(0.94 1)" font-size="11.4" fill="#3c3cff" stroke="#3c3cff" stroke-width="0.25" text-anchor="start" style="font-family:'Liberation Sans', sans-serif">10</text>
<text transform="translate(416.90 496.90) rotate(-90) scale(1.04 1)" font-size="13" fill="#1c1c1c" stroke="#1c1c1c" stroke-width="0.25" text-anchor="middle" style="font-family:'Liberation Sans', sans-serif">Intensity(V)</text>
<text transform="translate(613.65 670.20) rotate(0) scale(1.047 1)" font-size="13" fill="#1c1c1c" stroke="#1c1c1c" stroke-width="0.25" text-anchor="middle" style="font-family:'Liberation Sans', sans-serif">Depth (nm)</text>
<line x1="530.70" y1="376.00" x2="530.70" y2="631.60" stroke="#1e1e1e" stroke-width="1.35" stroke-dasharray="6 6.2"/>
<line x1="586.20" y1="376.00" x2="586.20" y2="631.60" stroke="#1e1e1e" stroke-width="1.35" stroke-dasharray="6 6.2"/>
<polyline points="457.60,602.69 458.16,602.64 458.83,602.45 459.60,602.19 460.45,601.89 461.38,601.84 462.38,601.66 463.43,601.55 464.53,601.28 465.66,601.15 466.82,600.83 468.00,600.72 469.17,600.55 470.34,600.27 471.49,600.07 472.61,599.94 473.70,599.65 474.66,599.55 475.63,599.52 476.62,599.29 477.63,599.27 478.64,599.17 479.67,599.12 480.70,598.89 481.73,598.64 482.76,598.67 483.79,598.64 484.82,598.47 485.83,598.22 486.84,598.06 487.83,598.05 488.80,597.89 489.76,597.94 490.69,597.81 491.60,597.55 492.74,597.45 493.88,597.21 495.00,597.17 496.10,597.05 497.19,596.77 498.25,596.57 499.30,596.38 500.32,596.22 501.32,596.09 502.30,595.65 503.24,595.42 504.16,595.28 505.05,595.03 505.90,594.90 507.13,594.50 508.26,594.42 509.29,594.17 510.26,593.80 511.19,593.66 512.10,593.35 513.02,593.01 513.98,592.76 515.00,592.35 515.98,591.99 517.00,591.81 518.05,591.46 519.12,590.87 520.18,590.58 521.23,589.99 522.24,589.58 523.20,589.33 524.09,588.94 524.90,588.48 526.06,587.87 527.04,587.33 527.89,586.73 528.67,586.43 529.46,585.71 530.30,585.12 531.17,584.60 532.01,583.93 532.85,583.42 533.71,582.57 534.62,581.89 535.60,581.00 536.23,580.32 536.89,579.68 537.58,578.84 538.28,578.13 538.99,577.35 539.72,576.46 540.45,575.56 541.17,574.74 541.89,573.80 542.60,572.79 543.24,572.11 543.87,571.22 544.51,570.42 545.14,569.68 545.78,568.70 546.41,567.71 547.05,566.78 547.68,565.99 548.32,565.06 548.96,564.06 549.60,563.12 550.10,562.49 550.61,561.56 551.12,560.71 551.62,559.99 552.13,559.12 552.64,558.13 553.15,557.25 553.66,556.35 554.17,555.35 554.68,554.45 555.18,553.53 555.69,552.76 556.20,551.78 556.70,550.93 557.20,550.15 557.71,549.29 558.21,548.24 558.71,547.32 559.21,546.31 559.71,545.36 560.21,544.44 560.71,543.60 561.20,542.75 561.70,541.65 562.20,540.53 562.70,539.60 563.20,538.52 563.70,537.46 564.14,536.77 564.57,535.79 565.01,535.04 565.45,534.11 565.88,533.36 566.32,532.52 566.76,531.40 567.19,530.41 567.63,529.67 568.07,528.73 568.51,527.73 568.94,526.85 569.38,525.93 569.82,524.88 570.26,523.84 570.70,522.70 571.09,521.79 571.49,520.79 571.90,519.95 572.31,519.04 572.72,517.95 573.13,517.05 573.54,515.94 573.95,514.88 574.36,514.00 574.77,513.01 575.17,512.14 575.57,511.13 575.96,510.15 576.35,509.00 576.73,508.14 577.09,507.01 577.45,506.13 577.80,505.32 578.18,504.34 578.55,503.32 578.92,502.16 579.28,501.13 579.63,500.12 579.98,498.91 580.31,498.02 580.64,497.08 580.97,495.97 581.28,495.02 581.59,493.96 581.89,492.91 582.18,492.05 582.46,490.97 582.73,490.21 583.00,489.46 583.34,488.20 583.65,487.24 583.94,486.01 584.21,485.13 584.47,484.06 584.72,483.25 584.96,482.24 585.20,481.41 585.44,480.28 585.68,479.25 585.94,478.47 586.20,477.55 586.49,476.48 586.79,475.27 587.08,474.18 587.38,473.17 587.67,472.05 587.97,471.25 588.27,470.27 588.57,469.32 588.87,468.25 589.18,467.09 589.50,465.90 589.79,465.08 590.06,464.06 590.33,463.26 590.60,462.42 590.87,461.58 591.15,460.60 591.44,459.64 591.74,458.80 592.07,457.72 592.42,456.77 592.79,455.57 593.20,454.35 593.46,453.51 593.74,452.77 594.04,451.89 594.35,450.91 594.67,449.92 595.00,449.02 595.34,448.15 595.68,447.06 596.03,445.90 596.38,444.83 596.73,443.75 597.09,442.78 597.44,441.85 597.79,440.82 598.13,439.69 598.46,438.69 598.79,437.74 599.11,436.84 599.41,435.96 599.70,435.31 600.12,434.07 600.53,432.92 600.92,431.84 601.30,430.76 601.67,429.78 602.02,428.68 602.38,427.75 602.72,426.92 603.07,425.82 603.42,424.96 603.77,424.03 604.13,423.03 604.50,422.09 604.99,421.15 605.48,419.98 605.97,419.07 606.46,417.95 606.95,416.99 607.44,415.95 607.93,415.14 608.42,414.37 608.91,413.39 609.40,412.58 610.00,411.67 610.61,410.55 611.21,409.57 611.81,408.71 612.40,407.89 613.00,406.87 613.60,406.11 614.20,405.21 615.00,404.15 615.80,403.45 616.59,402.44 617.39,401.84 618.19,401.20 619.00,400.61 619.95,400.09 620.88,399.69 621.83,399.31 622.82,399.08 623.90,398.80 624.84,398.79 625.80,398.72 626.80,398.65 627.87,398.43 629.02,398.42 630.30,398.34 631.19,398.47 632.07,398.55 632.97,398.68 633.91,398.70 634.92,398.75 636.01,398.87 637.20,398.80 638.53,399.01 640.00,399.07 640.80,399.21 641.65,399.28 642.54,399.65 643.47,399.65 644.44,400.01 645.43,400.30 646.46,400.39 647.50,400.66 648.56,400.66 649.64,400.78 650.73,400.91 651.82,401.08 652.92,401.25 654.01,401.69 655.10,401.79 656.18,402.08 657.25,402.22 658.30,402.33 659.29,402.55 660.28,402.67 661.27,403.04 662.27,403.14 663.27,403.33 664.27,403.50 665.27,403.68 666.28,403.81 667.29,403.88 668.30,403.95 669.31,404.28 670.32,404.32 671.33,404.49 672.35,404.75 673.36,404.89 674.37,405.15 675.38,405.31 676.39,405.37 677.40,405.34 678.41,405.53 679.42,405.66 680.43,405.90 681.44,406.00 682.45,406.15 683.46,406.33 684.47,406.38 685.48,406.57 686.49,406.75 687.51,406.68 688.52,406.92 689.53,407.09 690.54,407.23 691.55,407.20 692.56,407.21 693.57,407.23 694.58,407.37 695.59,407.63 696.60,407.68 697.61,407.65 698.61,407.78 699.62,407.82 700.63,408.06 701.63,408.29 702.64,408.50 703.64,408.42 704.65,408.51 705.65,408.52 706.66,408.81 707.66,409.00 708.67,409.04 709.67,409.24 710.68,409.26 711.68,409.39 712.69,409.42 713.69,409.43 714.69,409.67 715.70,409.78 716.71,409.81 717.71,409.94 718.71,409.98 719.72,410.08 720.72,409.94 721.73,409.92 722.73,409.93 723.74,410.11 724.74,410.27 725.75,410.22 726.75,410.32 727.76,410.28 728.76,410.46 729.77,410.61 730.77,410.51 731.78,410.74 732.79,410.80 733.79,410.69 734.80,410.72 735.81,410.70 736.84,410.88 737.88,411.05 738.92,410.94 739.97,410.90 741.02,411.02 742.08,411.18 743.13,411.24 744.18,411.20 745.22,411.09 746.26,411.20 747.28,411.22 748.30,411.35 749.29,411.37 750.28,411.45 751.24,411.58 752.18,411.56 753.11,411.66 754.00,411.54 755.21,411.44 756.43,411.68 757.65,411.60 758.86,411.88 760.06,411.91 761.22,411.85 762.35,411.91 763.43,412.12 764.45,412.17 765.40,412.29 766.27,412.24 767.05,412.45 767.73,412.44 768.30,412.59" fill="none" stroke="#303030" stroke-width="1.25" stroke-linejoin="round" />
<polyline points="457.60,592.20 457.98,592.13 458.41,592.04 458.89,591.95 459.42,591.84 459.99,591.72 460.61,591.60 461.26,591.46 461.94,591.32 462.65,591.18 463.39,591.03 464.14,590.88 464.92,590.72 465.71,590.57 466.52,590.41 467.33,590.26 468.15,590.11 468.97,589.96 469.78,589.81 470.59,589.68 471.39,589.54 472.18,589.42 472.95,589.31 473.70,589.20 474.39,589.11 475.08,589.02 475.79,588.94 476.51,588.86 477.24,588.78 477.97,588.71 478.71,588.63 479.45,588.56 480.20,588.50 480.95,588.43 481.70,588.37 482.44,588.31 483.19,588.25 483.94,588.19 484.68,588.13 485.41,588.07 486.14,588.02 486.86,587.96 487.58,587.91 488.28,587.86 488.97,587.81 489.65,587.76 490.32,587.70 490.97,587.65 491.60,587.60 492.41,587.53 493.19,587.47 493.95,587.41 494.69,587.35 495.41,587.29 496.11,587.24 496.80,587.19 497.48,587.14 498.15,587.09 498.81,587.04 499.48,586.99 500.14,586.94 500.80,586.90 501.47,586.85 502.15,586.80 502.84,586.75 503.54,586.70 504.26,586.65 505.00,586.60 505.68,586.55 506.39,586.50 507.10,586.46 507.83,586.41 508.56,586.36 509.31,586.31 510.06,586.26 510.81,586.21 511.56,586.17 512.32,586.12 513.07,586.07 513.82,586.02 514.56,585.97 515.29,585.93 516.01,585.88 516.72,585.83 517.41,585.78 518.09,585.74 518.75,585.69 519.39,585.65 520.00,585.60 520.88,585.54 521.70,585.48 522.48,585.42 523.23,585.37 523.94,585.32 524.64,585.27 525.32,585.22 525.99,585.16 526.67,585.11 527.35,585.04 528.05,584.97 528.76,584.89 529.51,584.80 530.30,584.70 530.96,584.61 531.62,584.50 532.28,584.39 532.94,584.27 533.61,584.15 534.28,584.02 534.96,583.89 535.65,583.75 536.35,583.61 537.06,583.47 537.79,583.34 538.53,583.20 539.30,583.07 540.09,582.94 540.90,582.82 541.74,582.71 542.60,582.60 543.21,582.53 543.84,582.46 544.49,582.39 545.16,582.33 545.84,582.26 546.54,582.19 547.24,582.13 547.97,582.07 548.69,582.00 549.43,581.94 550.17,581.88 550.92,581.82 551.67,581.77 552.42,581.71 553.16,581.65 553.91,581.60 554.65,581.55 555.38,581.50 556.11,581.45 556.83,581.40 557.53,581.36 558.22,581.32 558.90,581.28 559.56,581.24 560.20,581.20 560.99,581.16 561.77,581.11 562.54,581.07 563.31,581.04 564.08,581.00 564.83,580.97 565.57,580.93 566.31,580.91 567.03,580.88 567.75,580.86 568.45,580.84 569.15,580.82 569.83,580.80 570.50,580.79 571.15,580.79 571.79,580.78 572.42,580.78 573.03,580.78 573.62,580.79 574.20,580.80 575.12,580.82 575.99,580.86 576.81,580.89 577.58,580.94 578.32,581.00 579.03,581.06 579.72,581.14 580.39,581.23 581.04,581.32 581.69,581.44 582.34,581.56 583.00,581.70 583.79,581.89 584.56,582.11 585.32,582.35 586.07,582.61 586.79,582.89 587.50,583.17 588.19,583.46 588.85,583.75 589.49,584.03 590.10,584.30 590.92,584.66 591.67,585.01 592.36,585.36 593.03,585.71 593.68,586.09 594.33,586.52 595.00,587.00 595.52,587.41 596.00,587.85 596.48,588.32 596.95,588.81 597.43,589.31 597.93,589.84 598.47,590.38 599.06,590.93 599.70,591.50 600.18,591.91 600.68,592.34 601.19,592.79 601.72,593.25 602.27,593.72 602.84,594.19 603.42,594.67 604.01,595.14 604.62,595.61 605.25,596.06 605.89,596.49 606.54,596.91 607.20,597.30 607.78,597.62 608.38,597.95 608.98,598.26 609.60,598.57 610.23,598.87 610.86,599.16 611.51,599.45 612.17,599.72 612.84,599.99 613.52,600.24 614.21,600.48 614.92,600.71 615.63,600.92 616.36,601.12 617.10,601.30 617.74,601.44 618.34,601.57 618.92,601.69 619.48,601.79 620.04,601.88 620.60,601.96 621.17,602.03 621.76,602.09 622.38,602.15 623.05,602.20 623.76,602.24 624.53,602.28 625.37,602.33 626.29,602.37 627.29,602.41 628.39,602.45 629.60,602.50 630.09,602.52 630.55,602.54 631.00,602.56 631.43,602.58 631.85,602.59 632.26,602.61 632.66,602.63 633.05,602.64 633.43,602.66 633.81,602.67 634.19,602.69 634.58,602.70 634.97,602.72 635.36,602.73 635.77,602.75 636.18,602.76 636.61,602.77 637.06,602.78 637.52,602.80 638.00,602.81 638.51,602.82 639.04,602.83 639.60,602.84 640.18,602.85 640.80,602.86 641.46,602.87 642.14,602.88 642.87,602.89 643.64,602.90 644.46,602.91 645.31,602.92 646.22,602.92 647.18,602.93 648.18,602.94 649.25,602.95 650.37,602.95 651.55,602.96 652.79,602.97 654.09,602.98 655.47,602.98 656.91,602.99 658.42,602.99 660.00,603.00 660.46,603.00 660.92,603.00 661.40,603.00 661.89,603.01 662.38,603.01 662.89,603.01 663.41,603.01 663.94,603.01 664.48,603.01 665.03,603.01 665.58,603.02 666.15,603.02 666.73,603.02 667.31,603.02 667.91,603.02 668.51,603.02 669.12,603.02 669.74,603.02 670.37,603.02 671.01,603.02 671.65,603.03 672.31,603.03 672.97,603.03 673.64,603.03 674.31,603.03 674.99,603.03 675.68,603.03 676.38,603.03 677.09,603.03 677.80,603.03 678.51,603.03 679.24,603.03 679.97,603.03 680.70,603.03 681.45,603.03 682.19,603.03 682.95,603.03 683.71,603.03 684.47,603.04 685.24,603.04 686.01,603.04 686.79,603.04 687.58,603.04 688.37,603.04 689.16,603.04 689.96,603.04 690.76,603.04 691.56,603.04 692.37,603.04 693.19,603.04 694.00,603.04 694.82,603.04 695.64,603.04 696.47,603.04 697.30,603.04 698.13,603.04 698.97,603.04 699.80,603.04 700.64,603.04 701.48,603.04 702.33,603.04 703.17,603.04 704.02,603.04 704.87,603.04 705.72,603.04 706.57,603.04 707.42,603.03 708.28,603.03 709.13,603.03 709.98,603.03 710.84,603.03 711.69,603.03 712.55,603.03 713.41,603.03 714.26,603.03 715.12,603.03 715.97,603.03 716.83,603.03 717.68,603.03 718.53,603.03 719.39,603.03 720.24,603.03 721.09,603.03 721.93,603.03 722.78,603.03 723.63,603.03 724.47,603.03 725.31,603.03 726.15,603.03 726.98,603.03 727.82,603.03 728.65,603.02 729.48,603.02 730.30,603.02 731.12,603.02 731.94,603.02 732.76,603.02 733.57,603.02 734.38,603.02 735.18,603.02 735.98,603.02 736.78,603.02 737.57,603.02 738.35,603.02 739.14,603.02 739.91,603.02 740.69,603.02 741.45,603.02 742.22,603.02 742.97,603.01 743.72,603.01 744.47,603.01 745.21,603.01 745.94,603.01 746.67,603.01 747.39,603.01 748.11,603.01 748.82,603.01 749.52,603.01 750.21,603.01 750.90,603.01 751.58,603.01 752.25,603.01 752.92,603.01 753.58,603.01 754.23,603.01 754.87,603.01 755.50,603.01 756.13,603.01 756.75,603.01 757.35,603.01 757.95,603.00 758.55,603.00 759.13,603.00 759.70,603.00 760.26,603.00 760.82,603.00 761.36,603.00 761.90,603.00 762.42,603.00 762.94,603.00 763.44,603.00 763.94,603.00 764.42,603.00 764.89,603.00 765.35,603.00 765.80,603.00 766.24,603.00 766.67,603.00 767.09,603.00 767.50,603.00 767.89,603.00 768.27,603.00 768.64,603.00 769.00,603.00" fill="none" stroke="#4a4aff" stroke-width="1.3" stroke-linejoin="round" />
<text x="482.80" y="427.70" font-size="33" fill="#111" stroke="#111" stroke-width="0" text-anchor="middle" style="font-family:'Liberation Serif', serif" >I</text>
<text x="561.90" y="447.70" font-size="33" fill="#111" stroke="#111" stroke-width="0" text-anchor="middle" style="font-family:'Liberation Serif', serif" >II</text>
<text x="674.60" y="485.20" font-size="33" fill="#111" stroke="#111" stroke-width="0" text-anchor="middle" style="font-family:'Liberation Serif', serif" >III</text>
<text x="676.60" y="395.50" font-size="12.5" fill="#111" stroke="#111" stroke-width="0.25" text-anchor="start" style="font-family:'Liberation Sans', sans-serif" >Ni</text>
<text x="727.40" y="591.30" font-size="12.5" fill="#4a4aff" stroke="#4a4aff" stroke-width="0.25" text-anchor="start" style="font-family:'Liberation Sans', sans-serif" >C</text>
<line x1="220.10" y1="451.80" x2="342.60" y2="451.80" stroke="#555" stroke-width="1.1" />
<line x1="220.60" y1="451.80" x2="220.60" y2="553.90" stroke="#555" stroke-width="1.1" />
<line x1="220.10" y1="553.90" x2="342.60" y2="553.90" stroke="#555" stroke-width="1.1" />
<line x1="218.60" y1="542.56" x2="220.60" y2="542.56" stroke="#555" stroke-width="0.9" />
<line x1="218.60" y1="519.87" x2="220.60" y2="519.87" stroke="#555" stroke-width="0.9" />
<line x1="218.60" y1="497.18" x2="220.60" y2="497.18" stroke="#555" stroke-width="0.9" />
<line x1="218.60" y1="474.49" x2="220.60" y2="474.49" stroke="#555" stroke-width="0.9" />
<line x1="218.60" y1="451.80" x2="220.60" y2="451.80" stroke="#555" stroke-width="0.9" />
<line x1="219.40" y1="553.90" x2="220.60" y2="553.90" stroke="#555" stroke-width="0.9" />
<line x1="219.40" y1="531.21" x2="220.60" y2="531.21" stroke="#555" stroke-width="0.9" />
<line x1="219.40" y1="508.52" x2="220.60" y2="508.52" stroke="#555" stroke-width="0.9" />
<line x1="219.40" y1="485.83" x2="220.60" y2="485.83" stroke="#555" stroke-width="0.9" />
<line x1="219.40" y1="463.14" x2="220.60" y2="463.14" stroke="#555" stroke-width="0.9" />
<line x1="231.35" y1="553.90" x2="231.35" y2="555.90" stroke="#555" stroke-width="0.9" />
<line x1="249.89" y1="553.90" x2="249.89" y2="555.90" stroke="#555" stroke-width="0.9" />
<line x1="268.44" y1="553.90" x2="268.44" y2="555.90" stroke="#555" stroke-width="0.9" />
<line x1="286.98" y1="553.90" x2="286.98" y2="555.90" stroke="#555" stroke-width="0.9" />
<line x1="305.52" y1="553.90" x2="305.52" y2="555.90" stroke="#555" stroke-width="0.9" />
<line x1="324.06" y1="553.90" x2="324.06" y2="555.90" stroke="#555" stroke-width="0.9" />
<line x1="342.60" y1="553.90" x2="342.60" y2="555.90" stroke="#555" stroke-width="0.9" />
<line x1="222.08" y1="553.90" x2="222.08" y2="555.40" stroke="#555" stroke-width="0.9" />
<line x1="240.62" y1="553.90" x2="240.62" y2="555.40" stroke="#555" stroke-width="0.9" />
<line x1="259.17" y1="553.90" x2="259.17" y2="555.40" stroke="#555" stroke-width="0.9" />
<line x1="277.71" y1="553.90" x2="277.71" y2="555.40" stroke="#555" stroke-width="0.9" />
<line x1="296.25" y1="553.90" x2="296.25" y2="555.40" stroke="#555" stroke-width="0.9" />
<line x1="314.79" y1="553.90" x2="314.79" y2="555.40" stroke="#555" stroke-width="0.9" />
<line x1="333.33" y1="553.90" x2="333.33" y2="555.40" stroke="#555" stroke-width="0.9" />
<text x="217.60" y="545.36" font-size="7.8" fill="#333" stroke="#333" stroke-width="0.25" text-anchor="end" style="font-family:'Liberation Sans', sans-serif" >0</text>
<text x="217.60" y="522.67" font-size="7.8" fill="#333" stroke="#333" stroke-width="0.25" text-anchor="end" style="font-family:'Liberation Sans', sans-serif" >20</text>
<text x="217.60" y="499.98" font-size="7.8" fill="#333" stroke="#333" stroke-width="0.25" text-anchor="end" style="font-family:'Liberation Sans', sans-serif" >40</text>
<text x="217.60" y="477.29" font-size="7.8" fill="#333" stroke="#333" stroke-width="0.25" text-anchor="end" style="font-family:'Liberation Sans', sans-serif" >60</text>
<text x="217.60" y="454.60" font-size="7.8" fill="#333" stroke="#333" stroke-width="0.25" text-anchor="end" style="font-family:'Liberation Sans', sans-serif" >80</text>
<text x="231.35" y="564.40" font-size="7.8" fill="#333" stroke="#333" stroke-width="0.25" text-anchor="middle" style="font-family:'Liberation Sans', sans-serif" >10</text>
<text x="249.89" y="564.40" font-size="7.8" fill="#333" stroke="#333" stroke-width="0.25" text-anchor="middle" style="font-family:'Liberation Sans', sans-serif" >20</text>
<text x="268.44" y="564.40" font-size="7.8" fill="#333" stroke="#333" stroke-width="0.25" text-anchor="middle" style="font-family:'Liberation Sans', sans-serif" >30</text>
<text x="286.98" y="564.40" font-size="7.8" fill="#333" stroke="#333" stroke-width="0.25" text-anchor="middle" style="font-family:'Liberation Sans', sans-serif" >40</text>
<text x="305.52" y="564.40" font-size="7.8" fill="#333" stroke="#333" stroke-width="0.25" text-anchor="middle" style="font-family:'Liberation Sans', sans-serif" >50</text>
<text x="324.06" y="564.40" font-size="7.8" fill="#333" stroke="#333" stroke-width="0.25" text-anchor="middle" style="font-family:'Liberation Sans', sans-serif" >60</text>
<text x="342.60" y="564.40" font-size="7.8" fill="#333" stroke="#333" stroke-width="0.25" text-anchor="middle" style="font-family:'Liberation Sans', sans-serif" >70</text>
<line x1="342.60" y1="451.30" x2="342.60" y2="554.40" stroke="#4a4aff" stroke-width="1.2" />
<line x1="341.10" y1="553.90" x2="342.60" y2="553.90" stroke="#4a4aff" stroke-width="0.9" />
<line x1="341.10" y1="533.48" x2="342.60" y2="533.48" stroke="#4a4aff" stroke-width="0.9" />
<line x1="341.10" y1="513.06" x2="342.60" y2="513.06" stroke="#4a4aff" stroke-width="0.9" />
<line x1="341.10" y1="492.64" x2="342.60" y2="492.64" stroke="#4a4aff" stroke-width="0.9" />
<line x1="341.10" y1="472.22" x2="342.60" y2="472.22" stroke="#4a4aff" stroke-width="0.9" />
<line x1="341.10" y1="451.80" x2="342.60" y2="451.80" stroke="#4a4aff" stroke-width="0.9" />
<line x1="341.60" y1="543.69" x2="342.60" y2="543.69" stroke="#4a4aff" stroke-width="0.9" />
<line x1="341.60" y1="523.27" x2="342.60" y2="523.27" stroke="#4a4aff" stroke-width="0.9" />
<line x1="341.60" y1="502.85" x2="342.60" y2="502.85" stroke="#4a4aff" stroke-width="0.9" />
<line x1="341.60" y1="482.43" x2="342.60" y2="482.43" stroke="#4a4aff" stroke-width="0.9" />
<line x1="341.60" y1="462.01" x2="342.60" y2="462.01" stroke="#4a4aff" stroke-width="0.9" />
<text x="345.10" y="555.40" font-size="4" fill="#4a4aff" stroke="#4a4aff" stroke-width="0.12" text-anchor="start" style="font-family:'Liberation Sans', sans-serif" >0</text>
<text x="345.10" y="534.98" font-size="4" fill="#4a4aff" stroke="#4a4aff" stroke-width="0.12" text-anchor="start" style="font-family:'Liberation Sans', sans-serif" >2</text>
<text x="345.10" y="514.56" font-size="4" fill="#4a4aff" stroke="#4a4aff" stroke-width="0.12" text-anchor="start" style="font-family:'Liberation Sans', sans-serif" >4</text>
<text x="345.10" y="494.14" font-size="4" fill="#4a4aff" stroke="#4a4aff" stroke-width="0.12" text-anchor="start" style="font-family:'Liberation Sans', sans-serif" >6</text>
<text x="345.10" y="473.72" font-size="4" fill="#4a4aff" stroke="#4a4aff" stroke-width="0.12" text-anchor="start" style="font-family:'Liberation Sans', sans-serif" >8</text>
<text x="345.10" y="453.30" font-size="4" fill="#4a4aff" stroke="#4a4aff" stroke-width="0.12" text-anchor="start" style="font-family:'Liberation Sans', sans-serif" >10</text>
<text transform="translate(204.10 502.80) rotate(-90) scale(1.07 1)" font-size="10.8" fill="#1c1c1c" stroke="#1c1c1c" stroke-width="0.25" text-anchor="middle" style="font-family:'Liberation Sans', sans-serif">Intensity (v)</text>
<text transform="translate(282.00 575.50) rotate(0) scale(1.1 1)" font-size="10.5" fill="#1c1c1c" stroke="#1c1c1c" stroke-width="0.25" text-anchor="middle" style="font-family:'Liberation Sans', sans-serif">Depth (nm)</text>
<line x1="230.60" y1="451.80" x2="230.60" y2="553.90" stroke="#333" stroke-width="1.1" stroke-dasharray="3.7 3.45" stroke-dashoffset="0.8"/>
<line x1="281.10" y1="451.80" x2="281.10" y2="553.90" stroke="#333" stroke-width="1.1" stroke-dasharray="3.7 3.45" stroke-dashoffset="0.8"/>
<polyline points="220.80,528.20 221.21,528.16 221.72,528.11 222.33,528.06 223.01,528.00 223.75,527.94 224.53,527.87 225.35,527.79 226.18,527.72 227.01,527.64 227.82,527.55 228.60,527.47 229.33,527.38 230.01,527.29 230.60,527.20 231.49,527.05 232.26,526.90 232.94,526.74 233.56,526.58 234.17,526.40 234.79,526.20 235.45,525.97 236.20,525.70 236.80,525.48 237.43,525.24 238.08,524.98 238.75,524.71 239.43,524.43 240.11,524.13 240.80,523.83 241.47,523.52 242.14,523.22 242.78,522.91 243.40,522.60 244.05,522.26 244.69,521.93 245.31,521.59 245.91,521.24 246.51,520.89 247.11,520.54 247.70,520.17 248.29,519.79 248.89,519.40 249.50,519.00 250.06,518.63 250.62,518.25 251.18,517.86 251.75,517.47 252.31,517.07 252.88,516.66 253.44,516.23 254.01,515.80 254.57,515.35 255.14,514.88 255.70,514.40 256.22,513.94 256.73,513.47 257.25,512.99 257.77,512.49 258.29,511.98 258.81,511.46 259.32,510.94 259.84,510.40 260.36,509.86 260.87,509.31 261.39,508.76 261.90,508.20 262.38,507.67 262.89,507.10 263.40,506.51 263.92,505.90 264.44,505.29 264.96,504.67 265.46,504.07 265.96,503.47 266.43,502.90 266.87,502.36 267.29,501.86 267.67,501.40 268.00,501.00 268.72,500.15 269.06,499.75 269.38,499.35 270.00,498.50 270.31,498.07 270.66,497.61 271.04,497.10 271.45,496.56 271.87,495.99 272.32,495.38 272.78,494.75 273.24,494.10 273.71,493.42 274.18,492.73 274.64,492.02 275.10,491.30 275.44,490.74 275.79,490.15 276.15,489.54 276.51,488.91 276.87,488.27 277.24,487.61 277.61,486.94 277.98,486.26 278.35,485.59 278.72,484.91 279.08,484.24 279.44,483.58 279.79,482.93 280.14,482.30 280.47,481.69 280.80,481.10 281.19,480.41 281.56,479.75 281.93,479.11 282.28,478.50 282.63,477.90 282.97,477.30 283.31,476.71 283.64,476.12 283.98,475.51 284.33,474.89 284.68,474.26 285.03,473.59 285.40,472.90 285.71,472.31 286.02,471.72 286.33,471.11 286.65,470.48 286.98,469.85 287.30,469.21 287.63,468.57 287.96,467.91 288.28,467.25 288.61,466.59 288.93,465.93 289.26,465.26 289.57,464.59 289.89,463.93 290.20,463.26 290.50,462.60 290.81,461.92 291.12,461.20 291.45,460.45 291.77,459.68 292.10,458.90 292.43,458.11 292.75,457.33 293.07,456.56 293.38,455.80 293.67,455.08 293.95,454.39 294.21,453.75 294.44,453.16 294.66,452.64 294.84,452.18 295.00,451.80" fill="none" stroke="#1a1a1a" stroke-width="1.1" stroke-linejoin="round" />
<polyline points="220.80,528.70 221.20,528.64 221.68,528.55 222.24,528.46 222.86,528.35 223.54,528.23 224.27,528.10 225.03,527.97 225.82,527.84 226.63,527.71 227.45,527.58 228.26,527.47 229.07,527.36 229.85,527.27 230.60,527.20 231.29,527.15 231.98,527.10 232.69,527.06 233.40,527.04 234.11,527.01 234.83,527.00 235.56,526.99 236.28,526.98 237.01,526.97 237.73,526.96 238.45,526.96 239.17,526.95 239.89,526.94 240.60,526.92 241.30,526.90 242.05,526.87 242.79,526.85 243.53,526.82 244.27,526.80 245.01,526.77 245.74,526.75 246.48,526.72 247.21,526.69 247.94,526.66 248.67,526.63 249.40,526.60 250.13,526.57 250.87,526.53 251.60,526.50 252.34,526.46 253.09,526.43 253.85,526.39 254.61,526.35 255.37,526.30 256.13,526.26 256.89,526.22 257.64,526.17 258.38,526.13 259.12,526.08 259.84,526.04 260.54,525.99 261.23,525.95 261.90,525.90 262.71,525.83 263.47,525.76 264.19,525.68 264.88,525.59 265.56,525.50 266.24,525.42 266.93,525.35 267.63,525.29 268.37,525.24 269.16,525.21 270.00,525.20 270.66,525.21 271.37,525.23 272.10,525.25 272.86,525.28 273.65,525.33 274.44,525.37 275.25,525.43 276.05,525.49 276.85,525.55 277.63,525.62 278.39,525.69 279.13,525.76 279.83,525.84 280.49,525.92 281.10,526.00 282.03,526.14 282.87,526.28 283.63,526.44 284.34,526.60 285.01,526.78 285.66,526.96 286.29,527.16 286.93,527.37 287.60,527.60 288.27,527.84 288.93,528.10 289.58,528.37 290.22,528.65 290.85,528.95 291.49,529.25 292.12,529.56 292.76,529.88 293.40,530.20 294.05,530.53 294.70,530.88 295.36,531.23 296.02,531.60 296.67,531.97 297.33,532.33 297.99,532.70 298.64,533.05 299.30,533.40 299.96,533.74 300.61,534.07 301.27,534.41 301.93,534.74 302.58,535.06 303.24,535.38 303.90,535.69 304.55,536.00 305.20,536.30 305.93,536.63 306.65,536.95 307.38,537.27 308.10,537.57 308.82,537.87 309.55,538.16 310.27,538.44 311.00,538.70 311.73,538.95 312.47,539.19 313.21,539.42 313.94,539.64 314.68,539.85 315.42,540.05 316.16,540.23 316.90,540.40 317.64,540.55 318.38,540.70 319.12,540.82 319.86,540.94 320.59,541.04 321.33,541.14 322.07,541.22 322.80,541.30 323.48,541.37 324.07,541.42 324.64,541.47 325.22,541.51 325.86,541.54 326.60,541.56 327.50,541.58 328.60,541.60 329.15,541.61 329.77,541.61 330.45,541.62 331.19,541.62 331.97,541.62 332.78,541.62 333.62,541.62 334.47,541.62 335.33,541.62 336.19,541.62 337.03,541.62 337.85,541.61 338.64,541.61 339.39,541.61 340.09,541.61 340.73,541.60 341.30,541.60 341.80,541.60 342.20,541.60" fill="none" stroke="#4a4aff" stroke-width="1.1" stroke-linejoin="round" />
<text x="224.60" y="474.40" font-size="10.5" fill="#222" stroke="#222" stroke-width="0" text-anchor="middle" style="font-family:'Liberation Serif', serif" >I</text>
<text x="254.70" y="483.10" font-size="10.5" fill="#222" stroke="#222" stroke-width="0" text-anchor="middle" style="font-family:'Liberation Serif', serif" >II</text>
<text x="309.40" y="493.90" font-size="10.5" fill="#222" stroke="#222" stroke-width="0" text-anchor="middle" style="font-family:'Liberation Serif', serif" >III</text>
<text x="250.60" y="508.30" font-size="7.5" fill="#222" stroke="#222" stroke-width="0.25" text-anchor="start" style="font-family:'Liberation Sans', sans-serif" >Ni</text>
<text x="268.90" y="522.60" font-size="9.4" fill="#3c3cff" stroke="#3c3cff" stroke-width="0.1" text-anchor="start" style="font-family:'Liberation Sans', sans-serif" >C</text>
</svg>
</body></html>
